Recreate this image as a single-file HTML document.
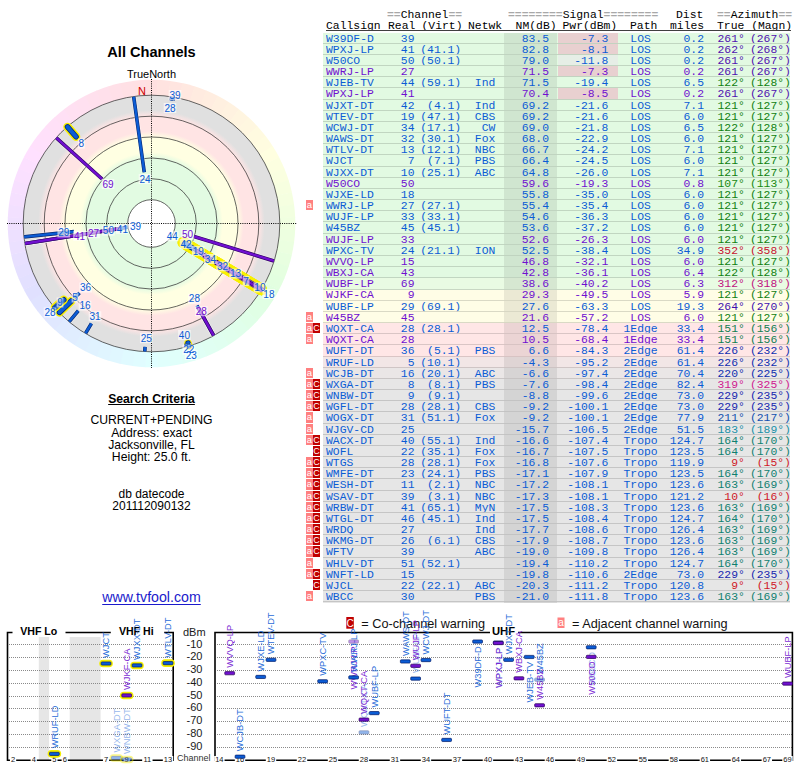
<!DOCTYPE html><html><head><meta charset="utf-8"><style>
html,body{margin:0;padding:0;}
body{width:800px;height:768px;position:relative;overflow:hidden;background:#fff;font-family:"Liberation Sans",sans-serif;}
.m{font-family:"Liberation Mono",monospace;font-size:11.38px;letter-spacing:0.002px;white-space:pre;position:absolute;line-height:11px;transform:scaleY(1.040);transform-origin:0 8.53px;}
.r{position:absolute;left:323px;width:467px;}
.ab{position:absolute;width:6.6px;height:10.2px;background:#ff8080;color:#fff;font-family:"Liberation Sans",sans-serif;font-size:9.5px;line-height:10px;text-align:center;}
.cb{position:absolute;width:7px;height:10.2px;background:#c00000;color:#fff;font-family:"Liberation Sans",sans-serif;font-size:9px;line-height:10.5px;text-align:center;}
.t{position:absolute;white-space:nowrap;}
</style></head><body>

<div class="m" style="left:387.00px;top:10.07px;color:#000;"><span style="color:#a8a8a8;font-weight:bold">==</span><span style="color:#000">Channel</span><span style="color:#a8a8a8;font-weight:bold">==</span></div>
<div class="m" style="left:508.00px;top:10.07px;color:#000;"><span style="color:#a8a8a8;font-weight:bold">========</span><span style="color:#000">Signal</span><span style="color:#a8a8a8;font-weight:bold">========</span></div>
<div class="m" style="left:676.00px;top:10.07px;color:#000;">Dist</div>
<div class="m" style="left:717.00px;top:10.07px;color:#000;"><span style="color:#a8a8a8;font-weight:bold">==</span><span style="color:#000">Azimuth</span><span style="color:#a8a8a8;font-weight:bold">==</span></div>
<div class="m" style="left:326.00px;top:21.27px;color:#000;">Callsign</div>
<div class="m" style="left:388.00px;top:21.27px;color:#000;">Real</div>
<div class="m" style="left:421.50px;top:21.27px;color:#000;">(Virt)</div>
<div class="m" style="left:468.00px;top:21.27px;color:#000;">Netwk</div>
<div class="m" style="left:515.60px;top:21.27px;color:#000;">NM(dB)</div>
<div class="m" style="left:562.50px;top:21.27px;color:#000;">Pwr(dBm)</div>
<div class="m" style="left:630.00px;top:21.27px;color:#000;">Path</div>
<div class="m" style="left:670.00px;top:21.27px;color:#000;">miles</div>
<div class="m" style="left:717.00px;top:21.27px;color:#000;">True (Magn)</div>
<div style="position:absolute;left:326px;top:30px;width:465px;height:1px;background:#404040"></div>
<div class="r" style="top:32.60px;height:11.57px;background:#e2fae2"></div>
<div style="position:absolute;left:504.2px;width:53.3px;top:32.60px;height:11.57px;background:#d0e6d0"></div>
<div style="position:absolute;left:557.5px;width:60.5px;top:32.60px;height:11.57px;background:#e8d0d0"></div>
<div class="m" style="left:326.00px;top:33.57px;color:#0b5cd5;">W39DF-D</div>
<div class="m" style="right:385.50px;top:33.57px;color:#0b5cd5;">39</div>
<div class="m" style="right:251.00px;top:33.57px;color:#0b5cd5;">83.5</div>
<div class="m" style="right:191.70px;top:33.57px;color:#0b5cd5;">-7.3</div>
<div class="m" style="left:590.6px;width:100px;text-align:center;top:33.57px;color:#0b5cd5">LOS</div>
<div class="m" style="right:96.00px;top:33.57px;color:#0b5cd5;">0.2</div>
<div class="m" style="right:55.20px;top:33.57px;color:#5010b0;">261°</div>
<div class="m" style="right:9.10px;top:33.57px;color:#5010b0;">(267°)</div>
<div class="r" style="top:43.77px;height:11.57px;background:#e2fae2"></div>
<div style="position:absolute;left:504.2px;width:53.3px;top:43.77px;height:11.57px;background:#d0e6d0"></div>
<div style="position:absolute;left:557.5px;width:60.5px;top:43.77px;height:11.57px;background:#e8d0d0"></div>
<div class="m" style="left:326.00px;top:44.74px;color:#0b5cd5;">WPXJ-LP</div>
<div class="m" style="right:385.50px;top:44.74px;color:#0b5cd5;">41</div>
<div class="m" style="right:338.80px;top:44.74px;color:#0b5cd5;">(41.1)</div>
<div class="m" style="right:251.00px;top:44.74px;color:#0b5cd5;">82.8</div>
<div class="m" style="right:191.70px;top:44.74px;color:#0b5cd5;">-8.1</div>
<div class="m" style="left:590.6px;width:100px;text-align:center;top:44.74px;color:#0b5cd5">LOS</div>
<div class="m" style="right:96.00px;top:44.74px;color:#0b5cd5;">0.2</div>
<div class="m" style="right:55.20px;top:44.74px;color:#5010b0;">262°</div>
<div class="m" style="right:9.10px;top:44.74px;color:#5010b0;">(268°)</div>
<div class="r" style="top:54.94px;height:11.57px;background:#e2fae2"></div>
<div style="position:absolute;left:504.2px;width:53.3px;top:54.94px;height:11.57px;background:#d0e6d0"></div>
<div style="position:absolute;left:557.5px;width:60.5px;top:54.94px;height:11.57px;background:#e6eee6"></div>
<div class="m" style="left:326.00px;top:55.91px;color:#0b5cd5;">W50CO</div>
<div class="m" style="right:385.50px;top:55.91px;color:#0b5cd5;">50</div>
<div class="m" style="right:338.80px;top:55.91px;color:#0b5cd5;">(50.1)</div>
<div class="m" style="right:251.00px;top:55.91px;color:#0b5cd5;">79.0</div>
<div class="m" style="right:191.70px;top:55.91px;color:#0b5cd5;">-11.8</div>
<div class="m" style="left:590.6px;width:100px;text-align:center;top:55.91px;color:#0b5cd5">LOS</div>
<div class="m" style="right:96.00px;top:55.91px;color:#0b5cd5;">0.2</div>
<div class="m" style="right:55.20px;top:55.91px;color:#5010b0;">261°</div>
<div class="m" style="right:9.10px;top:55.91px;color:#5010b0;">(267°)</div>
<div class="r" style="top:66.11px;height:11.57px;background:#e2fae2"></div>
<div style="position:absolute;left:504.2px;width:53.3px;top:66.11px;height:11.57px;background:#d0e6d0"></div>
<div style="position:absolute;left:557.5px;width:60.5px;top:66.11px;height:11.57px;background:#e8d0d0"></div>
<div class="m" style="left:326.00px;top:67.08px;color:#7010d0;">WWRJ-LP</div>
<div class="m" style="right:385.50px;top:67.08px;color:#7010d0;">27</div>
<div class="m" style="right:251.00px;top:67.08px;color:#7010d0;">71.5</div>
<div class="m" style="right:191.70px;top:67.08px;color:#7010d0;">-7.3</div>
<div class="m" style="left:590.6px;width:100px;text-align:center;top:67.08px;color:#7010d0">LOS</div>
<div class="m" style="right:96.00px;top:67.08px;color:#7010d0;">0.2</div>
<div class="m" style="right:55.20px;top:67.08px;color:#5010b0;">261°</div>
<div class="m" style="right:9.10px;top:67.08px;color:#5010b0;">(267°)</div>
<div class="r" style="top:77.28px;height:11.57px;background:#e2fae2"></div>
<div style="position:absolute;left:504.2px;width:53.3px;top:77.28px;height:11.57px;background:#d0e6d0"></div>
<div class="m" style="left:326.00px;top:78.25px;color:#0b5cd5;">WJEB-TV</div>
<div class="m" style="right:385.50px;top:78.25px;color:#0b5cd5;">44</div>
<div class="m" style="right:338.80px;top:78.25px;color:#0b5cd5;">(59.1)</div>
<div class="m" style="right:304.70px;top:78.25px;color:#0b5cd5;">Ind</div>
<div class="m" style="right:251.00px;top:78.25px;color:#0b5cd5;">71.5</div>
<div class="m" style="right:191.70px;top:78.25px;color:#0b5cd5;">-19.4</div>
<div class="m" style="left:590.6px;width:100px;text-align:center;top:78.25px;color:#0b5cd5">LOS</div>
<div class="m" style="right:96.00px;top:78.25px;color:#0b5cd5;">6.5</div>
<div class="m" style="right:55.20px;top:78.25px;color:#108010;">122°</div>
<div class="m" style="right:9.10px;top:78.25px;color:#108010;">(128°)</div>
<div class="r" style="top:88.45px;height:11.57px;background:#e2fae2"></div>
<div style="position:absolute;left:504.2px;width:53.3px;top:88.45px;height:11.57px;background:#d0e6d0"></div>
<div style="position:absolute;left:557.5px;width:60.5px;top:88.45px;height:11.57px;background:#e8d0d0"></div>
<div class="m" style="left:326.00px;top:89.42px;color:#7010d0;">WPXJ-LP</div>
<div class="m" style="right:385.50px;top:89.42px;color:#7010d0;">41</div>
<div class="m" style="right:251.00px;top:89.42px;color:#7010d0;">70.4</div>
<div class="m" style="right:191.70px;top:89.42px;color:#7010d0;">-8.5</div>
<div class="m" style="left:590.6px;width:100px;text-align:center;top:89.42px;color:#7010d0">LOS</div>
<div class="m" style="right:96.00px;top:89.42px;color:#7010d0;">0.2</div>
<div class="m" style="right:55.20px;top:89.42px;color:#5010b0;">261°</div>
<div class="m" style="right:9.10px;top:89.42px;color:#5010b0;">(267°)</div>
<div class="r" style="top:99.62px;height:11.57px;background:#e2fae2"></div>
<div style="position:absolute;left:504.2px;width:53.3px;top:99.62px;height:11.57px;background:#d0e6d0"></div>
<div class="m" style="left:326.00px;top:100.59px;color:#0b5cd5;">WJXT-DT</div>
<div class="m" style="right:385.50px;top:100.59px;color:#0b5cd5;">42</div>
<div class="m" style="right:338.80px;top:100.59px;color:#0b5cd5;">(4.1)</div>
<div class="m" style="right:304.70px;top:100.59px;color:#0b5cd5;">Ind</div>
<div class="m" style="right:251.00px;top:100.59px;color:#0b5cd5;">69.2</div>
<div class="m" style="right:191.70px;top:100.59px;color:#0b5cd5;">-21.6</div>
<div class="m" style="left:590.6px;width:100px;text-align:center;top:100.59px;color:#0b5cd5">LOS</div>
<div class="m" style="right:96.00px;top:100.59px;color:#0b5cd5;">7.1</div>
<div class="m" style="right:55.20px;top:100.59px;color:#108010;">121°</div>
<div class="m" style="right:9.10px;top:100.59px;color:#108010;">(127°)</div>
<div class="r" style="top:110.79px;height:11.57px;background:#e2fae2"></div>
<div style="position:absolute;left:504.2px;width:53.3px;top:110.79px;height:11.57px;background:#d0e6d0"></div>
<div class="m" style="left:326.00px;top:111.76px;color:#0b5cd5;">WTEV-DT</div>
<div class="m" style="right:385.50px;top:111.76px;color:#0b5cd5;">19</div>
<div class="m" style="right:338.80px;top:111.76px;color:#0b5cd5;">(47.1)</div>
<div class="m" style="right:304.70px;top:111.76px;color:#0b5cd5;">CBS</div>
<div class="m" style="right:251.00px;top:111.76px;color:#0b5cd5;">69.2</div>
<div class="m" style="right:191.70px;top:111.76px;color:#0b5cd5;">-21.6</div>
<div class="m" style="left:590.6px;width:100px;text-align:center;top:111.76px;color:#0b5cd5">LOS</div>
<div class="m" style="right:96.00px;top:111.76px;color:#0b5cd5;">6.0</div>
<div class="m" style="right:55.20px;top:111.76px;color:#108010;">121°</div>
<div class="m" style="right:9.10px;top:111.76px;color:#108010;">(127°)</div>
<div class="r" style="top:121.96px;height:11.57px;background:#e2fae2"></div>
<div style="position:absolute;left:504.2px;width:53.3px;top:121.96px;height:11.57px;background:#d0e6d0"></div>
<div class="m" style="left:326.00px;top:122.93px;color:#0b5cd5;">WCWJ-DT</div>
<div class="m" style="right:385.50px;top:122.93px;color:#0b5cd5;">34</div>
<div class="m" style="right:338.80px;top:122.93px;color:#0b5cd5;">(17.1)</div>
<div class="m" style="right:304.70px;top:122.93px;color:#0b5cd5;">CW</div>
<div class="m" style="right:251.00px;top:122.93px;color:#0b5cd5;">69.0</div>
<div class="m" style="right:191.70px;top:122.93px;color:#0b5cd5;">-21.8</div>
<div class="m" style="left:590.6px;width:100px;text-align:center;top:122.93px;color:#0b5cd5">LOS</div>
<div class="m" style="right:96.00px;top:122.93px;color:#0b5cd5;">6.5</div>
<div class="m" style="right:55.20px;top:122.93px;color:#108010;">122°</div>
<div class="m" style="right:9.10px;top:122.93px;color:#108010;">(128°)</div>
<div class="r" style="top:133.13px;height:11.57px;background:#e2fae2"></div>
<div style="position:absolute;left:504.2px;width:53.3px;top:133.13px;height:11.57px;background:#d0e6d0"></div>
<div class="m" style="left:326.00px;top:134.10px;color:#0b5cd5;">WAWS-DT</div>
<div class="m" style="right:385.50px;top:134.10px;color:#0b5cd5;">32</div>
<div class="m" style="right:338.80px;top:134.10px;color:#0b5cd5;">(30.1)</div>
<div class="m" style="right:304.70px;top:134.10px;color:#0b5cd5;">Fox</div>
<div class="m" style="right:251.00px;top:134.10px;color:#0b5cd5;">68.0</div>
<div class="m" style="right:191.70px;top:134.10px;color:#0b5cd5;">-22.9</div>
<div class="m" style="left:590.6px;width:100px;text-align:center;top:134.10px;color:#0b5cd5">LOS</div>
<div class="m" style="right:96.00px;top:134.10px;color:#0b5cd5;">6.0</div>
<div class="m" style="right:55.20px;top:134.10px;color:#108010;">121°</div>
<div class="m" style="right:9.10px;top:134.10px;color:#108010;">(127°)</div>
<div class="r" style="top:144.30px;height:11.57px;background:#e2fae2"></div>
<div style="position:absolute;left:504.2px;width:53.3px;top:144.30px;height:11.57px;background:#d0e6d0"></div>
<div class="m" style="left:326.00px;top:145.27px;color:#0b5cd5;">WTLV-DT</div>
<div class="m" style="right:385.50px;top:145.27px;color:#0b5cd5;">13</div>
<div class="m" style="right:338.80px;top:145.27px;color:#0b5cd5;">(12.1)</div>
<div class="m" style="right:304.70px;top:145.27px;color:#0b5cd5;">NBC</div>
<div class="m" style="right:251.00px;top:145.27px;color:#0b5cd5;">66.7</div>
<div class="m" style="right:191.70px;top:145.27px;color:#0b5cd5;">-24.2</div>
<div class="m" style="left:590.6px;width:100px;text-align:center;top:145.27px;color:#0b5cd5">LOS</div>
<div class="m" style="right:96.00px;top:145.27px;color:#0b5cd5;">7.1</div>
<div class="m" style="right:55.20px;top:145.27px;color:#108010;">121°</div>
<div class="m" style="right:9.10px;top:145.27px;color:#108010;">(127°)</div>
<div class="r" style="top:155.47px;height:11.57px;background:#e2fae2"></div>
<div style="position:absolute;left:504.2px;width:53.3px;top:155.47px;height:11.57px;background:#d0e6d0"></div>
<div class="m" style="left:326.00px;top:156.44px;color:#0b5cd5;">WJCT</div>
<div class="m" style="right:385.50px;top:156.44px;color:#0b5cd5;">7</div>
<div class="m" style="right:338.80px;top:156.44px;color:#0b5cd5;">(7.1)</div>
<div class="m" style="right:304.70px;top:156.44px;color:#0b5cd5;">PBS</div>
<div class="m" style="right:251.00px;top:156.44px;color:#0b5cd5;">66.4</div>
<div class="m" style="right:191.70px;top:156.44px;color:#0b5cd5;">-24.5</div>
<div class="m" style="left:590.6px;width:100px;text-align:center;top:156.44px;color:#0b5cd5">LOS</div>
<div class="m" style="right:96.00px;top:156.44px;color:#0b5cd5;">6.0</div>
<div class="m" style="right:55.20px;top:156.44px;color:#108010;">121°</div>
<div class="m" style="right:9.10px;top:156.44px;color:#108010;">(127°)</div>
<div class="r" style="top:166.64px;height:11.57px;background:#e2fae2"></div>
<div style="position:absolute;left:504.2px;width:53.3px;top:166.64px;height:11.57px;background:#d0e6d0"></div>
<div class="m" style="left:326.00px;top:167.61px;color:#0b5cd5;">WJXX-DT</div>
<div class="m" style="right:385.50px;top:167.61px;color:#0b5cd5;">10</div>
<div class="m" style="right:338.80px;top:167.61px;color:#0b5cd5;">(25.1)</div>
<div class="m" style="right:304.70px;top:167.61px;color:#0b5cd5;">ABC</div>
<div class="m" style="right:251.00px;top:167.61px;color:#0b5cd5;">64.8</div>
<div class="m" style="right:191.70px;top:167.61px;color:#0b5cd5;">-26.0</div>
<div class="m" style="left:590.6px;width:100px;text-align:center;top:167.61px;color:#0b5cd5">LOS</div>
<div class="m" style="right:96.00px;top:167.61px;color:#0b5cd5;">7.1</div>
<div class="m" style="right:55.20px;top:167.61px;color:#108010;">121°</div>
<div class="m" style="right:9.10px;top:167.61px;color:#108010;">(127°)</div>
<div class="r" style="top:177.81px;height:11.57px;background:#e2fae2"></div>
<div style="position:absolute;left:504.2px;width:53.3px;top:177.81px;height:11.57px;background:#d0e6d0"></div>
<div class="m" style="left:326.00px;top:178.78px;color:#7010d0;">W50CO</div>
<div class="m" style="right:385.50px;top:178.78px;color:#7010d0;">50</div>
<div class="m" style="right:251.00px;top:178.78px;color:#7010d0;">59.6</div>
<div class="m" style="right:191.70px;top:178.78px;color:#7010d0;">-19.3</div>
<div class="m" style="left:590.6px;width:100px;text-align:center;top:178.78px;color:#7010d0">LOS</div>
<div class="m" style="right:96.00px;top:178.78px;color:#7010d0;">0.8</div>
<div class="m" style="right:55.20px;top:178.78px;color:#188810;">107°</div>
<div class="m" style="right:9.10px;top:178.78px;color:#188810;">(113°)</div>
<div class="r" style="top:188.98px;height:11.57px;background:#e2fae2"></div>
<div style="position:absolute;left:504.2px;width:53.3px;top:188.98px;height:11.57px;background:#d0e6d0"></div>
<div class="m" style="left:326.00px;top:189.95px;color:#0b5cd5;">WJXE-LD</div>
<div class="m" style="right:385.50px;top:189.95px;color:#0b5cd5;">18</div>
<div class="m" style="right:251.00px;top:189.95px;color:#0b5cd5;">55.8</div>
<div class="m" style="right:191.70px;top:189.95px;color:#0b5cd5;">-35.0</div>
<div class="m" style="left:590.6px;width:100px;text-align:center;top:189.95px;color:#0b5cd5">LOS</div>
<div class="m" style="right:96.00px;top:189.95px;color:#0b5cd5;">6.0</div>
<div class="m" style="right:55.20px;top:189.95px;color:#108010;">121°</div>
<div class="m" style="right:9.10px;top:189.95px;color:#108010;">(127°)</div>
<div class="r" style="top:200.15px;height:11.57px;background:#e2fae2"></div>
<div style="position:absolute;left:504.2px;width:53.3px;top:200.15px;height:11.57px;background:#d0e6d0"></div>
<div class="m" style="left:326.00px;top:201.12px;color:#0b5cd5;">WWRJ-LP</div>
<div class="m" style="right:385.50px;top:201.12px;color:#0b5cd5;">27</div>
<div class="m" style="right:338.80px;top:201.12px;color:#0b5cd5;">(27.1)</div>
<div class="m" style="right:251.00px;top:201.12px;color:#0b5cd5;">55.4</div>
<div class="m" style="right:191.70px;top:201.12px;color:#0b5cd5;">-35.4</div>
<div class="m" style="left:590.6px;width:100px;text-align:center;top:201.12px;color:#0b5cd5">LOS</div>
<div class="m" style="right:96.00px;top:201.12px;color:#0b5cd5;">6.0</div>
<div class="m" style="right:55.20px;top:201.12px;color:#108010;">121°</div>
<div class="m" style="right:9.10px;top:201.12px;color:#108010;">(127°)</div>
<div class="ab" style="left:306.2px;top:200.15px">a</div>
<div class="r" style="top:211.32px;height:11.57px;background:#e2fae2"></div>
<div style="position:absolute;left:504.2px;width:53.3px;top:211.32px;height:11.57px;background:#d0e6d0"></div>
<div class="m" style="left:326.00px;top:212.29px;color:#0b5cd5;">WUJF-LP</div>
<div class="m" style="right:385.50px;top:212.29px;color:#0b5cd5;">33</div>
<div class="m" style="right:338.80px;top:212.29px;color:#0b5cd5;">(33.1)</div>
<div class="m" style="right:251.00px;top:212.29px;color:#0b5cd5;">54.6</div>
<div class="m" style="right:191.70px;top:212.29px;color:#0b5cd5;">-36.3</div>
<div class="m" style="left:590.6px;width:100px;text-align:center;top:212.29px;color:#0b5cd5">LOS</div>
<div class="m" style="right:96.00px;top:212.29px;color:#0b5cd5;">6.0</div>
<div class="m" style="right:55.20px;top:212.29px;color:#108010;">121°</div>
<div class="m" style="right:9.10px;top:212.29px;color:#108010;">(127°)</div>
<div class="r" style="top:222.49px;height:11.57px;background:#e2fae2"></div>
<div style="position:absolute;left:504.2px;width:53.3px;top:222.49px;height:11.57px;background:#d0e6d0"></div>
<div class="m" style="left:326.00px;top:223.46px;color:#0b5cd5;">W45BZ</div>
<div class="m" style="right:385.50px;top:223.46px;color:#0b5cd5;">45</div>
<div class="m" style="right:338.80px;top:223.46px;color:#0b5cd5;">(45.1)</div>
<div class="m" style="right:251.00px;top:223.46px;color:#0b5cd5;">53.6</div>
<div class="m" style="right:191.70px;top:223.46px;color:#0b5cd5;">-37.2</div>
<div class="m" style="left:590.6px;width:100px;text-align:center;top:223.46px;color:#0b5cd5">LOS</div>
<div class="m" style="right:96.00px;top:223.46px;color:#0b5cd5;">6.0</div>
<div class="m" style="right:55.20px;top:223.46px;color:#108010;">121°</div>
<div class="m" style="right:9.10px;top:223.46px;color:#108010;">(127°)</div>
<div class="r" style="top:233.66px;height:11.57px;background:#e2fae2"></div>
<div style="position:absolute;left:504.2px;width:53.3px;top:233.66px;height:11.57px;background:#d0e6d0"></div>
<div class="m" style="left:326.00px;top:234.63px;color:#7010d0;">WUJF-LP</div>
<div class="m" style="right:385.50px;top:234.63px;color:#7010d0;">33</div>
<div class="m" style="right:251.00px;top:234.63px;color:#7010d0;">52.6</div>
<div class="m" style="right:191.70px;top:234.63px;color:#7010d0;">-26.3</div>
<div class="m" style="left:590.6px;width:100px;text-align:center;top:234.63px;color:#7010d0">LOS</div>
<div class="m" style="right:96.00px;top:234.63px;color:#7010d0;">6.0</div>
<div class="m" style="right:55.20px;top:234.63px;color:#108010;">121°</div>
<div class="m" style="right:9.10px;top:234.63px;color:#108010;">(127°)</div>
<div class="r" style="top:244.83px;height:11.57px;background:#e2fae2"></div>
<div style="position:absolute;left:504.2px;width:53.3px;top:244.83px;height:11.57px;background:#d0e6d0"></div>
<div class="m" style="left:326.00px;top:245.80px;color:#0b5cd5;">WPXC-TV</div>
<div class="m" style="right:385.50px;top:245.80px;color:#0b5cd5;">24</div>
<div class="m" style="right:338.80px;top:245.80px;color:#0b5cd5;">(21.1)</div>
<div class="m" style="right:304.70px;top:245.80px;color:#0b5cd5;">ION</div>
<div class="m" style="right:251.00px;top:245.80px;color:#0b5cd5;">52.5</div>
<div class="m" style="right:191.70px;top:245.80px;color:#0b5cd5;">-38.4</div>
<div class="m" style="left:590.6px;width:100px;text-align:center;top:245.80px;color:#0b5cd5">LOS</div>
<div class="m" style="right:96.00px;top:245.80px;color:#0b5cd5;">34.9</div>
<div class="m" style="right:55.20px;top:245.80px;color:#c81030;">352°</div>
<div class="m" style="right:9.10px;top:245.80px;color:#c81030;">(358°)</div>
<div class="r" style="top:256.00px;height:11.57px;background:#e2fae2"></div>
<div style="position:absolute;left:504.2px;width:53.3px;top:256.00px;height:11.57px;background:#d0e6d0"></div>
<div class="m" style="left:326.00px;top:256.97px;color:#7010d0;">WVVQ-LP</div>
<div class="m" style="right:385.50px;top:256.97px;color:#7010d0;">15</div>
<div class="m" style="right:251.00px;top:256.97px;color:#7010d0;">46.8</div>
<div class="m" style="right:191.70px;top:256.97px;color:#7010d0;">-32.1</div>
<div class="m" style="left:590.6px;width:100px;text-align:center;top:256.97px;color:#7010d0">LOS</div>
<div class="m" style="right:96.00px;top:256.97px;color:#7010d0;">6.0</div>
<div class="m" style="right:55.20px;top:256.97px;color:#108010;">121°</div>
<div class="m" style="right:9.10px;top:256.97px;color:#108010;">(127°)</div>
<div class="r" style="top:267.17px;height:11.57px;background:#e2fae2"></div>
<div style="position:absolute;left:504.2px;width:53.3px;top:267.17px;height:11.57px;background:#d0e6d0"></div>
<div class="m" style="left:326.00px;top:268.14px;color:#7010d0;">WBXJ-CA</div>
<div class="m" style="right:385.50px;top:268.14px;color:#7010d0;">43</div>
<div class="m" style="right:251.00px;top:268.14px;color:#7010d0;">42.8</div>
<div class="m" style="right:191.70px;top:268.14px;color:#7010d0;">-36.1</div>
<div class="m" style="left:590.6px;width:100px;text-align:center;top:268.14px;color:#7010d0">LOS</div>
<div class="m" style="right:96.00px;top:268.14px;color:#7010d0;">6.4</div>
<div class="m" style="right:55.20px;top:268.14px;color:#108010;">122°</div>
<div class="m" style="right:9.10px;top:268.14px;color:#108010;">(128°)</div>
<div class="r" style="top:278.34px;height:11.57px;background:#e9fbe3"></div>
<div style="position:absolute;left:504.2px;width:53.3px;top:278.34px;height:11.57px;background:#d6e7d1"></div>
<div class="m" style="left:326.00px;top:279.31px;color:#7010d0;">WUBF-LP</div>
<div class="m" style="right:385.50px;top:279.31px;color:#7010d0;">69</div>
<div class="m" style="right:251.00px;top:279.31px;color:#7010d0;">38.6</div>
<div class="m" style="right:191.70px;top:279.31px;color:#7010d0;">-40.2</div>
<div class="m" style="left:590.6px;width:100px;text-align:center;top:279.31px;color:#7010d0">LOS</div>
<div class="m" style="right:96.00px;top:279.31px;color:#7010d0;">6.3</div>
<div class="m" style="right:55.20px;top:279.31px;color:#c01080;">312°</div>
<div class="m" style="right:9.10px;top:279.31px;color:#c01080;">(318°)</div>
<div class="r" style="top:289.51px;height:11.57px;background:#fffde6"></div>
<div style="position:absolute;left:504.2px;width:53.3px;top:289.51px;height:11.57px;background:#ebe9d4"></div>
<div class="m" style="left:326.00px;top:290.48px;color:#7010d0;">WJKF-CA</div>
<div class="m" style="right:385.50px;top:290.48px;color:#7010d0;">9</div>
<div class="m" style="right:251.00px;top:290.48px;color:#7010d0;">29.3</div>
<div class="m" style="right:191.70px;top:290.48px;color:#7010d0;">-49.5</div>
<div class="m" style="left:590.6px;width:100px;text-align:center;top:290.48px;color:#7010d0">LOS</div>
<div class="m" style="right:96.00px;top:290.48px;color:#7010d0;">5.9</div>
<div class="m" style="right:55.20px;top:290.48px;color:#108010;">121°</div>
<div class="m" style="right:9.10px;top:290.48px;color:#108010;">(127°)</div>
<div class="r" style="top:300.68px;height:11.57px;background:#fffde6"></div>
<div style="position:absolute;left:504.2px;width:53.3px;top:300.68px;height:11.57px;background:#ebe9d4"></div>
<div class="m" style="left:326.00px;top:301.65px;color:#0b5cd5;">WUBF-LP</div>
<div class="m" style="right:385.50px;top:301.65px;color:#0b5cd5;">29</div>
<div class="m" style="right:338.80px;top:301.65px;color:#0b5cd5;">(69.1)</div>
<div class="m" style="right:251.00px;top:301.65px;color:#0b5cd5;">27.6</div>
<div class="m" style="right:191.70px;top:301.65px;color:#0b5cd5;">-63.3</div>
<div class="m" style="left:590.6px;width:100px;text-align:center;top:301.65px;color:#0b5cd5">LOS</div>
<div class="m" style="right:96.00px;top:301.65px;color:#0b5cd5;">19.3</div>
<div class="m" style="right:55.20px;top:301.65px;color:#4010b0;">264°</div>
<div class="m" style="right:9.10px;top:301.65px;color:#4010b0;">(270°)</div>
<div class="r" style="top:311.85px;height:11.57px;background:#fffde6"></div>
<div style="position:absolute;left:504.2px;width:53.3px;top:311.85px;height:11.57px;background:#ebe9d4"></div>
<div class="m" style="left:326.00px;top:312.82px;color:#7010d0;">W45BZ</div>
<div class="m" style="right:385.50px;top:312.82px;color:#7010d0;">45</div>
<div class="m" style="right:251.00px;top:312.82px;color:#7010d0;">21.6</div>
<div class="m" style="right:191.70px;top:312.82px;color:#7010d0;">-57.2</div>
<div class="m" style="left:590.6px;width:100px;text-align:center;top:312.82px;color:#7010d0">LOS</div>
<div class="m" style="right:96.00px;top:312.82px;color:#7010d0;">6.0</div>
<div class="m" style="right:55.20px;top:312.82px;color:#108010;">121°</div>
<div class="m" style="right:9.10px;top:312.82px;color:#108010;">(127°)</div>
<div class="ab" style="left:306.2px;top:311.85px">a</div>
<div class="r" style="top:323.02px;height:11.57px;background:#ffe6e6"></div>
<div style="position:absolute;left:504.2px;width:53.3px;top:323.02px;height:11.57px;background:#ebd4d4"></div>
<div class="m" style="left:326.00px;top:323.99px;color:#0b5cd5;">WQXT-CA</div>
<div class="m" style="right:385.50px;top:323.99px;color:#0b5cd5;">28</div>
<div class="m" style="right:338.80px;top:323.99px;color:#0b5cd5;">(28.1)</div>
<div class="m" style="right:251.00px;top:323.99px;color:#0b5cd5;">12.5</div>
<div class="m" style="right:191.70px;top:323.99px;color:#0b5cd5;">-78.4</div>
<div class="m" style="left:590.6px;width:100px;text-align:center;top:323.99px;color:#0b5cd5">1Edge</div>
<div class="m" style="right:96.00px;top:323.99px;color:#0b5cd5;">33.4</div>
<div class="m" style="right:55.20px;top:323.99px;color:#108050;">151°</div>
<div class="m" style="right:9.10px;top:323.99px;color:#108050;">(156°)</div>
<div class="ab" style="left:306.2px;top:323.02px">a</div>
<div class="cb" style="left:312.9px;top:323.02px">C</div>
<div class="r" style="top:334.19px;height:11.57px;background:#ffe6e6"></div>
<div style="position:absolute;left:504.2px;width:53.3px;top:334.19px;height:11.57px;background:#ebd4d4"></div>
<div class="m" style="left:326.00px;top:335.16px;color:#7010d0;">WQXT-CA</div>
<div class="m" style="right:385.50px;top:335.16px;color:#7010d0;">28</div>
<div class="m" style="right:251.00px;top:335.16px;color:#7010d0;">10.5</div>
<div class="m" style="right:191.70px;top:335.16px;color:#7010d0;">-68.4</div>
<div class="m" style="left:590.6px;width:100px;text-align:center;top:335.16px;color:#7010d0">1Edge</div>
<div class="m" style="right:96.00px;top:335.16px;color:#7010d0;">33.4</div>
<div class="m" style="right:55.20px;top:335.16px;color:#108050;">151°</div>
<div class="m" style="right:9.10px;top:335.16px;color:#108050;">(156°)</div>
<div class="ab" style="left:306.2px;top:334.19px">a</div>
<div class="r" style="top:345.36px;height:11.57px;background:#ffe6e6"></div>
<div style="position:absolute;left:504.2px;width:53.3px;top:345.36px;height:11.57px;background:#ebd4d4"></div>
<div class="m" style="left:326.00px;top:346.33px;color:#0b5cd5;">WUFT-DT</div>
<div class="m" style="right:385.50px;top:346.33px;color:#0b5cd5;">36</div>
<div class="m" style="right:338.80px;top:346.33px;color:#0b5cd5;">(5.1)</div>
<div class="m" style="right:304.70px;top:346.33px;color:#0b5cd5;">PBS</div>
<div class="m" style="right:251.00px;top:346.33px;color:#0b5cd5;">6.6</div>
<div class="m" style="right:191.70px;top:346.33px;color:#0b5cd5;">-84.3</div>
<div class="m" style="left:590.6px;width:100px;text-align:center;top:346.33px;color:#0b5cd5">2Edge</div>
<div class="m" style="right:96.00px;top:346.33px;color:#0b5cd5;">61.4</div>
<div class="m" style="right:55.20px;top:346.33px;color:#1030b0;">226°</div>
<div class="m" style="right:9.10px;top:346.33px;color:#1030b0;">(232°)</div>
<div class="r" style="top:356.53px;height:11.57px;background:#f2e6e6"></div>
<div style="position:absolute;left:504.2px;width:53.3px;top:356.53px;height:11.57px;background:#dfd4d4"></div>
<div class="m" style="left:326.00px;top:357.50px;color:#0b5cd5;">WRUF-LD</div>
<div class="m" style="right:385.50px;top:357.50px;color:#0b5cd5;">5</div>
<div class="m" style="right:338.80px;top:357.50px;color:#0b5cd5;">(10.1)</div>
<div class="m" style="right:251.00px;top:357.50px;color:#0b5cd5;">-4.3</div>
<div class="m" style="right:191.70px;top:357.50px;color:#0b5cd5;">-95.2</div>
<div class="m" style="left:590.6px;width:100px;text-align:center;top:357.50px;color:#0b5cd5">2Edge</div>
<div class="m" style="right:96.00px;top:357.50px;color:#0b5cd5;">61.4</div>
<div class="m" style="right:55.20px;top:357.50px;color:#1030b0;">226°</div>
<div class="m" style="right:9.10px;top:357.50px;color:#1030b0;">(232°)</div>
<div class="r" style="top:367.70px;height:11.57px;background:#eae6e6"></div>
<div style="position:absolute;left:504.2px;width:53.3px;top:367.70px;height:11.57px;background:#d7d4d4"></div>
<div class="m" style="left:326.00px;top:368.67px;color:#0b5cd5;">WCJB-DT</div>
<div class="m" style="right:385.50px;top:368.67px;color:#0b5cd5;">16</div>
<div class="m" style="right:338.80px;top:368.67px;color:#0b5cd5;">(20.1)</div>
<div class="m" style="right:304.70px;top:368.67px;color:#0b5cd5;">ABC</div>
<div class="m" style="right:251.00px;top:368.67px;color:#0b5cd5;">-6.6</div>
<div class="m" style="right:191.70px;top:368.67px;color:#0b5cd5;">-97.4</div>
<div class="m" style="left:590.6px;width:100px;text-align:center;top:368.67px;color:#0b5cd5">2Edge</div>
<div class="m" style="right:96.00px;top:368.67px;color:#0b5cd5;">70.4</div>
<div class="m" style="right:55.20px;top:368.67px;color:#1030b0;">220°</div>
<div class="m" style="right:9.10px;top:368.67px;color:#1030b0;">(225°)</div>
<div class="ab" style="left:306.2px;top:367.70px">a</div>
<div class="r" style="top:378.87px;height:11.57px;background:#e7e6e6"></div>
<div style="position:absolute;left:504.2px;width:53.3px;top:378.87px;height:11.57px;background:#d5d4d4"></div>
<div class="m" style="left:326.00px;top:379.84px;color:#0b5cd5;">WXGA-DT</div>
<div class="m" style="right:385.50px;top:379.84px;color:#0b5cd5;">8</div>
<div class="m" style="right:338.80px;top:379.84px;color:#0b5cd5;">(8.1)</div>
<div class="m" style="right:304.70px;top:379.84px;color:#0b5cd5;">PBS</div>
<div class="m" style="right:251.00px;top:379.84px;color:#0b5cd5;">-7.6</div>
<div class="m" style="right:191.70px;top:379.84px;color:#0b5cd5;">-98.4</div>
<div class="m" style="left:590.6px;width:100px;text-align:center;top:379.84px;color:#0b5cd5">2Edge</div>
<div class="m" style="right:96.00px;top:379.84px;color:#0b5cd5;">82.4</div>
<div class="m" style="right:55.20px;top:379.84px;color:#d01890;">319°</div>
<div class="m" style="right:9.10px;top:379.84px;color:#d01890;">(325°)</div>
<div class="ab" style="left:306.2px;top:378.87px">a</div>
<div class="cb" style="left:312.9px;top:378.87px">C</div>
<div class="r" style="top:390.04px;height:11.57px;background:#e6e6e6"></div>
<div style="position:absolute;left:504.2px;width:53.3px;top:390.04px;height:11.57px;background:#d4d4d4"></div>
<div class="m" style="left:326.00px;top:391.01px;color:#0b5cd5;">WNBW-DT</div>
<div class="m" style="right:385.50px;top:391.01px;color:#0b5cd5;">9</div>
<div class="m" style="right:338.80px;top:391.01px;color:#0b5cd5;">(9.1)</div>
<div class="m" style="right:251.00px;top:391.01px;color:#0b5cd5;">-8.8</div>
<div class="m" style="right:191.70px;top:391.01px;color:#0b5cd5;">-99.6</div>
<div class="m" style="left:590.6px;width:100px;text-align:center;top:391.01px;color:#0b5cd5">2Edge</div>
<div class="m" style="right:96.00px;top:391.01px;color:#0b5cd5;">73.0</div>
<div class="m" style="right:55.20px;top:391.01px;color:#1828b0;">229°</div>
<div class="m" style="right:9.10px;top:391.01px;color:#1828b0;">(235°)</div>
<div class="ab" style="left:306.2px;top:390.04px">a</div>
<div class="cb" style="left:312.9px;top:390.04px">C</div>
<div class="r" style="top:401.21px;height:11.57px;background:#e6e6e6"></div>
<div style="position:absolute;left:504.2px;width:53.3px;top:401.21px;height:11.57px;background:#d4d4d4"></div>
<div class="m" style="left:326.00px;top:402.18px;color:#0b5cd5;">WGFL-DT</div>
<div class="m" style="right:385.50px;top:402.18px;color:#0b5cd5;">28</div>
<div class="m" style="right:338.80px;top:402.18px;color:#0b5cd5;">(28.1)</div>
<div class="m" style="right:304.70px;top:402.18px;color:#0b5cd5;">CBS</div>
<div class="m" style="right:251.00px;top:402.18px;color:#0b5cd5;">-9.2</div>
<div class="m" style="right:191.70px;top:402.18px;color:#0b5cd5;">-100.1</div>
<div class="m" style="left:590.6px;width:100px;text-align:center;top:402.18px;color:#0b5cd5">2Edge</div>
<div class="m" style="right:96.00px;top:402.18px;color:#0b5cd5;">73.0</div>
<div class="m" style="right:55.20px;top:402.18px;color:#1828b0;">229°</div>
<div class="m" style="right:9.10px;top:402.18px;color:#1828b0;">(235°)</div>
<div class="ab" style="left:306.2px;top:401.21px">a</div>
<div class="cb" style="left:312.9px;top:401.21px">C</div>
<div class="r" style="top:412.38px;height:11.57px;background:#e6e6e6"></div>
<div style="position:absolute;left:504.2px;width:53.3px;top:412.38px;height:11.57px;background:#d4d4d4"></div>
<div class="m" style="left:326.00px;top:413.35px;color:#0b5cd5;">WOGX-DT</div>
<div class="m" style="right:385.50px;top:413.35px;color:#0b5cd5;">31</div>
<div class="m" style="right:338.80px;top:413.35px;color:#0b5cd5;">(51.1)</div>
<div class="m" style="right:304.70px;top:413.35px;color:#0b5cd5;">Fox</div>
<div class="m" style="right:251.00px;top:413.35px;color:#0b5cd5;">-9.2</div>
<div class="m" style="right:191.70px;top:413.35px;color:#0b5cd5;">-100.1</div>
<div class="m" style="left:590.6px;width:100px;text-align:center;top:413.35px;color:#0b5cd5">2Edge</div>
<div class="m" style="right:96.00px;top:413.35px;color:#0b5cd5;">77.9</div>
<div class="m" style="right:55.20px;top:413.35px;color:#1050b0;">211°</div>
<div class="m" style="right:9.10px;top:413.35px;color:#1050b0;">(217°)</div>
<div class="ab" style="left:306.2px;top:412.38px">a</div>
<div class="r" style="top:423.55px;height:11.57px;background:#e6e6e6"></div>
<div style="position:absolute;left:504.2px;width:53.3px;top:423.55px;height:11.57px;background:#d4d4d4"></div>
<div class="m" style="left:326.00px;top:424.52px;color:#0b5cd5;">WJGV-CD</div>
<div class="m" style="right:385.50px;top:424.52px;color:#0b5cd5;">25</div>
<div class="m" style="right:251.00px;top:424.52px;color:#0b5cd5;">-15.7</div>
<div class="m" style="right:191.70px;top:424.52px;color:#0b5cd5;">-106.5</div>
<div class="m" style="left:590.6px;width:100px;text-align:center;top:424.52px;color:#0b5cd5">2Edge</div>
<div class="m" style="right:96.00px;top:424.52px;color:#0b5cd5;">51.5</div>
<div class="m" style="right:55.20px;top:424.52px;color:#1890a8;">183°</div>
<div class="m" style="right:9.10px;top:424.52px;color:#1890a8;">(189°)</div>
<div class="ab" style="left:306.2px;top:423.55px">a</div>
<div class="r" style="top:434.72px;height:11.57px;background:#e6e6e6"></div>
<div style="position:absolute;left:504.2px;width:53.3px;top:434.72px;height:11.57px;background:#d4d4d4"></div>
<div class="m" style="left:326.00px;top:435.69px;color:#0b5cd5;">WACX-DT</div>
<div class="m" style="right:385.50px;top:435.69px;color:#0b5cd5;">40</div>
<div class="m" style="right:338.80px;top:435.69px;color:#0b5cd5;">(55.1)</div>
<div class="m" style="right:304.70px;top:435.69px;color:#0b5cd5;">Ind</div>
<div class="m" style="right:251.00px;top:435.69px;color:#0b5cd5;">-16.6</div>
<div class="m" style="right:191.70px;top:435.69px;color:#0b5cd5;">-107.4</div>
<div class="m" style="left:590.6px;width:100px;text-align:center;top:435.69px;color:#0b5cd5">Tropo</div>
<div class="m" style="right:96.00px;top:435.69px;color:#0b5cd5;">124.7</div>
<div class="m" style="right:55.20px;top:435.69px;color:#108070;">164°</div>
<div class="m" style="right:9.10px;top:435.69px;color:#108070;">(170°)</div>
<div class="ab" style="left:306.2px;top:434.72px">a</div>
<div class="cb" style="left:312.9px;top:434.72px">C</div>
<div class="r" style="top:445.89px;height:11.57px;background:#e6e6e6"></div>
<div style="position:absolute;left:504.2px;width:53.3px;top:445.89px;height:11.57px;background:#d4d4d4"></div>
<div class="m" style="left:326.00px;top:446.86px;color:#0b5cd5;">WOFL</div>
<div class="m" style="right:385.50px;top:446.86px;color:#0b5cd5;">22</div>
<div class="m" style="right:338.80px;top:446.86px;color:#0b5cd5;">(35.1)</div>
<div class="m" style="right:304.70px;top:446.86px;color:#0b5cd5;">Fox</div>
<div class="m" style="right:251.00px;top:446.86px;color:#0b5cd5;">-16.7</div>
<div class="m" style="right:191.70px;top:446.86px;color:#0b5cd5;">-107.5</div>
<div class="m" style="left:590.6px;width:100px;text-align:center;top:446.86px;color:#0b5cd5">Tropo</div>
<div class="m" style="right:96.00px;top:446.86px;color:#0b5cd5;">123.5</div>
<div class="m" style="right:55.20px;top:446.86px;color:#108070;">164°</div>
<div class="m" style="right:9.10px;top:446.86px;color:#108070;">(170°)</div>
<div class="cb" style="left:312.9px;top:445.89px">C</div>
<div class="r" style="top:457.06px;height:11.57px;background:#e6e6e6"></div>
<div style="position:absolute;left:504.2px;width:53.3px;top:457.06px;height:11.57px;background:#d4d4d4"></div>
<div class="m" style="left:326.00px;top:458.03px;color:#0b5cd5;">WTGS</div>
<div class="m" style="right:385.50px;top:458.03px;color:#0b5cd5;">28</div>
<div class="m" style="right:338.80px;top:458.03px;color:#0b5cd5;">(28.1)</div>
<div class="m" style="right:304.70px;top:458.03px;color:#0b5cd5;">Fox</div>
<div class="m" style="right:251.00px;top:458.03px;color:#0b5cd5;">-16.8</div>
<div class="m" style="right:191.70px;top:458.03px;color:#0b5cd5;">-107.6</div>
<div class="m" style="left:590.6px;width:100px;text-align:center;top:458.03px;color:#0b5cd5">Tropo</div>
<div class="m" style="right:96.00px;top:458.03px;color:#0b5cd5;">119.9</div>
<div class="m" style="right:55.20px;top:458.03px;color:#d01828;">9°</div>
<div class="m" style="right:9.10px;top:458.03px;color:#d01828;">(15°)</div>
<div class="ab" style="left:306.2px;top:457.06px">a</div>
<div class="cb" style="left:312.9px;top:457.06px">C</div>
<div class="r" style="top:468.23px;height:11.57px;background:#e6e6e6"></div>
<div style="position:absolute;left:504.2px;width:53.3px;top:468.23px;height:11.57px;background:#d4d4d4"></div>
<div class="m" style="left:326.00px;top:469.20px;color:#0b5cd5;">WMFE-DT</div>
<div class="m" style="right:385.50px;top:469.20px;color:#0b5cd5;">23</div>
<div class="m" style="right:338.80px;top:469.20px;color:#0b5cd5;">(24.1)</div>
<div class="m" style="right:304.70px;top:469.20px;color:#0b5cd5;">PBS</div>
<div class="m" style="right:251.00px;top:469.20px;color:#0b5cd5;">-17.1</div>
<div class="m" style="right:191.70px;top:469.20px;color:#0b5cd5;">-107.9</div>
<div class="m" style="left:590.6px;width:100px;text-align:center;top:469.20px;color:#0b5cd5">Tropo</div>
<div class="m" style="right:96.00px;top:469.20px;color:#0b5cd5;">123.5</div>
<div class="m" style="right:55.20px;top:469.20px;color:#108070;">164°</div>
<div class="m" style="right:9.10px;top:469.20px;color:#108070;">(170°)</div>
<div class="ab" style="left:306.2px;top:468.23px">a</div>
<div class="cb" style="left:312.9px;top:468.23px">C</div>
<div class="r" style="top:479.40px;height:11.57px;background:#e6e6e6"></div>
<div style="position:absolute;left:504.2px;width:53.3px;top:479.40px;height:11.57px;background:#d4d4d4"></div>
<div class="m" style="left:326.00px;top:480.37px;color:#0b5cd5;">WESH-DT</div>
<div class="m" style="right:385.50px;top:480.37px;color:#0b5cd5;">11</div>
<div class="m" style="right:338.80px;top:480.37px;color:#0b5cd5;">(2.1)</div>
<div class="m" style="right:304.70px;top:480.37px;color:#0b5cd5;">NBC</div>
<div class="m" style="right:251.00px;top:480.37px;color:#0b5cd5;">-17.2</div>
<div class="m" style="right:191.70px;top:480.37px;color:#0b5cd5;">-108.1</div>
<div class="m" style="left:590.6px;width:100px;text-align:center;top:480.37px;color:#0b5cd5">Tropo</div>
<div class="m" style="right:96.00px;top:480.37px;color:#0b5cd5;">123.6</div>
<div class="m" style="right:55.20px;top:480.37px;color:#108070;">163°</div>
<div class="m" style="right:9.10px;top:480.37px;color:#108070;">(169°)</div>
<div class="ab" style="left:306.2px;top:479.40px">a</div>
<div class="cb" style="left:312.9px;top:479.40px">C</div>
<div class="r" style="top:490.57px;height:11.57px;background:#e6e6e6"></div>
<div style="position:absolute;left:504.2px;width:53.3px;top:490.57px;height:11.57px;background:#d4d4d4"></div>
<div class="m" style="left:326.00px;top:491.54px;color:#0b5cd5;">WSAV-DT</div>
<div class="m" style="right:385.50px;top:491.54px;color:#0b5cd5;">39</div>
<div class="m" style="right:338.80px;top:491.54px;color:#0b5cd5;">(3.1)</div>
<div class="m" style="right:304.70px;top:491.54px;color:#0b5cd5;">NBC</div>
<div class="m" style="right:251.00px;top:491.54px;color:#0b5cd5;">-17.3</div>
<div class="m" style="right:191.70px;top:491.54px;color:#0b5cd5;">-108.1</div>
<div class="m" style="left:590.6px;width:100px;text-align:center;top:491.54px;color:#0b5cd5">Tropo</div>
<div class="m" style="right:96.00px;top:491.54px;color:#0b5cd5;">121.2</div>
<div class="m" style="right:55.20px;top:491.54px;color:#d01828;">10°</div>
<div class="m" style="right:9.10px;top:491.54px;color:#d01828;">(16°)</div>
<div class="ab" style="left:306.2px;top:490.57px">a</div>
<div class="cb" style="left:312.9px;top:490.57px">C</div>
<div class="r" style="top:501.74px;height:11.57px;background:#e6e6e6"></div>
<div style="position:absolute;left:504.2px;width:53.3px;top:501.74px;height:11.57px;background:#d4d4d4"></div>
<div class="m" style="left:326.00px;top:502.71px;color:#0b5cd5;">WRBW-DT</div>
<div class="m" style="right:385.50px;top:502.71px;color:#0b5cd5;">41</div>
<div class="m" style="right:338.80px;top:502.71px;color:#0b5cd5;">(65.1)</div>
<div class="m" style="right:304.70px;top:502.71px;color:#0b5cd5;">MyN</div>
<div class="m" style="right:251.00px;top:502.71px;color:#0b5cd5;">-17.5</div>
<div class="m" style="right:191.70px;top:502.71px;color:#0b5cd5;">-108.3</div>
<div class="m" style="left:590.6px;width:100px;text-align:center;top:502.71px;color:#0b5cd5">Tropo</div>
<div class="m" style="right:96.00px;top:502.71px;color:#0b5cd5;">123.6</div>
<div class="m" style="right:55.20px;top:502.71px;color:#108070;">163°</div>
<div class="m" style="right:9.10px;top:502.71px;color:#108070;">(169°)</div>
<div class="ab" style="left:306.2px;top:501.74px">a</div>
<div class="cb" style="left:312.9px;top:501.74px">C</div>
<div class="r" style="top:512.91px;height:11.57px;background:#e6e6e6"></div>
<div style="position:absolute;left:504.2px;width:53.3px;top:512.91px;height:11.57px;background:#d4d4d4"></div>
<div class="m" style="left:326.00px;top:513.88px;color:#0b5cd5;">WTGL-DT</div>
<div class="m" style="right:385.50px;top:513.88px;color:#0b5cd5;">46</div>
<div class="m" style="right:338.80px;top:513.88px;color:#0b5cd5;">(45.1)</div>
<div class="m" style="right:304.70px;top:513.88px;color:#0b5cd5;">Ind</div>
<div class="m" style="right:251.00px;top:513.88px;color:#0b5cd5;">-17.5</div>
<div class="m" style="right:191.70px;top:513.88px;color:#0b5cd5;">-108.4</div>
<div class="m" style="left:590.6px;width:100px;text-align:center;top:513.88px;color:#0b5cd5">Tropo</div>
<div class="m" style="right:96.00px;top:513.88px;color:#0b5cd5;">124.7</div>
<div class="m" style="right:55.20px;top:513.88px;color:#108070;">164°</div>
<div class="m" style="right:9.10px;top:513.88px;color:#108070;">(170°)</div>
<div class="ab" style="left:306.2px;top:512.91px">a</div>
<div class="cb" style="left:312.9px;top:512.91px">C</div>
<div class="r" style="top:524.08px;height:11.57px;background:#e6e6e6"></div>
<div style="position:absolute;left:504.2px;width:53.3px;top:524.08px;height:11.57px;background:#d4d4d4"></div>
<div class="m" style="left:326.00px;top:525.05px;color:#0b5cd5;">WRDQ</div>
<div class="m" style="right:385.50px;top:525.05px;color:#0b5cd5;">27</div>
<div class="m" style="right:304.70px;top:525.05px;color:#0b5cd5;">Ind</div>
<div class="m" style="right:251.00px;top:525.05px;color:#0b5cd5;">-17.7</div>
<div class="m" style="right:191.70px;top:525.05px;color:#0b5cd5;">-108.6</div>
<div class="m" style="left:590.6px;width:100px;text-align:center;top:525.05px;color:#0b5cd5">Tropo</div>
<div class="m" style="right:96.00px;top:525.05px;color:#0b5cd5;">126.4</div>
<div class="m" style="right:55.20px;top:525.05px;color:#108070;">163°</div>
<div class="m" style="right:9.10px;top:525.05px;color:#108070;">(169°)</div>
<div class="ab" style="left:306.2px;top:524.08px">a</div>
<div class="cb" style="left:312.9px;top:524.08px">C</div>
<div class="r" style="top:535.25px;height:11.57px;background:#e6e6e6"></div>
<div style="position:absolute;left:504.2px;width:53.3px;top:535.25px;height:11.57px;background:#d4d4d4"></div>
<div class="m" style="left:326.00px;top:536.22px;color:#0b5cd5;">WKMG-DT</div>
<div class="m" style="right:385.50px;top:536.22px;color:#0b5cd5;">26</div>
<div class="m" style="right:338.80px;top:536.22px;color:#0b5cd5;">(6.1)</div>
<div class="m" style="right:304.70px;top:536.22px;color:#0b5cd5;">CBS</div>
<div class="m" style="right:251.00px;top:536.22px;color:#0b5cd5;">-17.9</div>
<div class="m" style="right:191.70px;top:536.22px;color:#0b5cd5;">-108.7</div>
<div class="m" style="left:590.6px;width:100px;text-align:center;top:536.22px;color:#0b5cd5">Tropo</div>
<div class="m" style="right:96.00px;top:536.22px;color:#0b5cd5;">123.6</div>
<div class="m" style="right:55.20px;top:536.22px;color:#108070;">163°</div>
<div class="m" style="right:9.10px;top:536.22px;color:#108070;">(169°)</div>
<div class="ab" style="left:306.2px;top:535.25px">a</div>
<div class="cb" style="left:312.9px;top:535.25px">C</div>
<div class="r" style="top:546.42px;height:11.57px;background:#e6e6e6"></div>
<div style="position:absolute;left:504.2px;width:53.3px;top:546.42px;height:11.57px;background:#d4d4d4"></div>
<div class="m" style="left:326.00px;top:547.39px;color:#0b5cd5;">WFTV</div>
<div class="m" style="right:385.50px;top:547.39px;color:#0b5cd5;">39</div>
<div class="m" style="right:304.70px;top:547.39px;color:#0b5cd5;">ABC</div>
<div class="m" style="right:251.00px;top:547.39px;color:#0b5cd5;">-19.0</div>
<div class="m" style="right:191.70px;top:547.39px;color:#0b5cd5;">-109.8</div>
<div class="m" style="left:590.6px;width:100px;text-align:center;top:547.39px;color:#0b5cd5">Tropo</div>
<div class="m" style="right:96.00px;top:547.39px;color:#0b5cd5;">126.4</div>
<div class="m" style="right:55.20px;top:547.39px;color:#108070;">163°</div>
<div class="m" style="right:9.10px;top:547.39px;color:#108070;">(169°)</div>
<div class="ab" style="left:306.2px;top:546.42px">a</div>
<div class="cb" style="left:312.9px;top:546.42px">C</div>
<div class="r" style="top:557.59px;height:11.57px;background:#e6e6e6"></div>
<div style="position:absolute;left:504.2px;width:53.3px;top:557.59px;height:11.57px;background:#d4d4d4"></div>
<div class="m" style="left:326.00px;top:558.56px;color:#0b5cd5;">WHLV-DT</div>
<div class="m" style="right:385.50px;top:558.56px;color:#0b5cd5;">51</div>
<div class="m" style="right:338.80px;top:558.56px;color:#0b5cd5;">(52.1)</div>
<div class="m" style="right:251.00px;top:558.56px;color:#0b5cd5;">-19.4</div>
<div class="m" style="right:191.70px;top:558.56px;color:#0b5cd5;">-110.2</div>
<div class="m" style="left:590.6px;width:100px;text-align:center;top:558.56px;color:#0b5cd5">Tropo</div>
<div class="m" style="right:96.00px;top:558.56px;color:#0b5cd5;">124.7</div>
<div class="m" style="right:55.20px;top:558.56px;color:#108070;">164°</div>
<div class="m" style="right:9.10px;top:558.56px;color:#108070;">(170°)</div>
<div class="ab" style="left:306.2px;top:557.59px">a</div>
<div class="r" style="top:568.76px;height:11.57px;background:#e6e6e6"></div>
<div style="position:absolute;left:504.2px;width:53.3px;top:568.76px;height:11.57px;background:#d4d4d4"></div>
<div class="m" style="left:326.00px;top:569.73px;color:#0b5cd5;">WNFT-LD</div>
<div class="m" style="right:385.50px;top:569.73px;color:#0b5cd5;">15</div>
<div class="m" style="right:251.00px;top:569.73px;color:#0b5cd5;">-19.8</div>
<div class="m" style="right:191.70px;top:569.73px;color:#0b5cd5;">-110.6</div>
<div class="m" style="left:590.6px;width:100px;text-align:center;top:569.73px;color:#0b5cd5">2Edge</div>
<div class="m" style="right:96.00px;top:569.73px;color:#0b5cd5;">73.0</div>
<div class="m" style="right:55.20px;top:569.73px;color:#1828b0;">229°</div>
<div class="m" style="right:9.10px;top:569.73px;color:#1828b0;">(235°)</div>
<div class="ab" style="left:306.2px;top:568.76px">a</div>
<div class="cb" style="left:312.9px;top:568.76px">C</div>
<div class="r" style="top:579.93px;height:11.57px;background:#e6e6e6"></div>
<div style="position:absolute;left:504.2px;width:53.3px;top:579.93px;height:11.57px;background:#d4d4d4"></div>
<div class="m" style="left:326.00px;top:580.90px;color:#0b5cd5;">WJCL</div>
<div class="m" style="right:385.50px;top:580.90px;color:#0b5cd5;">22</div>
<div class="m" style="right:338.80px;top:580.90px;color:#0b5cd5;">(22.1)</div>
<div class="m" style="right:304.70px;top:580.90px;color:#0b5cd5;">ABC</div>
<div class="m" style="right:251.00px;top:580.90px;color:#0b5cd5;">-20.3</div>
<div class="m" style="right:191.70px;top:580.90px;color:#0b5cd5;">-111.2</div>
<div class="m" style="left:590.6px;width:100px;text-align:center;top:580.90px;color:#0b5cd5">Tropo</div>
<div class="m" style="right:96.00px;top:580.90px;color:#0b5cd5;">120.8</div>
<div class="m" style="right:55.20px;top:580.90px;color:#d01828;">9°</div>
<div class="m" style="right:9.10px;top:580.90px;color:#d01828;">(15°)</div>
<div class="cb" style="left:312.9px;top:579.93px">C</div>
<div class="r" style="top:591.10px;height:11.57px;background:#e6e6e6"></div>
<div style="position:absolute;left:504.2px;width:53.3px;top:591.10px;height:11.57px;background:#d4d4d4"></div>
<div class="m" style="left:326.00px;top:592.07px;color:#0b5cd5;">WBCC</div>
<div class="m" style="right:385.50px;top:592.07px;color:#0b5cd5;">30</div>
<div class="m" style="right:304.70px;top:592.07px;color:#0b5cd5;">PBS</div>
<div class="m" style="right:251.00px;top:592.07px;color:#0b5cd5;">-21.0</div>
<div class="m" style="right:191.70px;top:592.07px;color:#0b5cd5;">-111.8</div>
<div class="m" style="left:590.6px;width:100px;text-align:center;top:592.07px;color:#0b5cd5">Tropo</div>
<div class="m" style="right:96.00px;top:592.07px;color:#0b5cd5;">123.6</div>
<div class="m" style="right:55.20px;top:592.07px;color:#108070;">163°</div>
<div class="m" style="right:9.10px;top:592.07px;color:#108070;">(169°)</div>
<div class="ab" style="left:306.2px;top:591.10px">a</div>
<div style="position:absolute;left:323px;width:467px;top:42.77px;height:1px;background:#bed2be;opacity:0.9"></div>
<div style="position:absolute;left:323px;width:467px;top:53.94px;height:1px;background:#bed2be;opacity:0.9"></div>
<div style="position:absolute;left:323px;width:467px;top:65.11px;height:1px;background:#bed2be;opacity:0.9"></div>
<div style="position:absolute;left:323px;width:467px;top:76.28px;height:1px;background:#bed2be;opacity:0.9"></div>
<div style="position:absolute;left:323px;width:467px;top:87.45px;height:1px;background:#bed2be;opacity:0.9"></div>
<div style="position:absolute;left:323px;width:467px;top:98.62px;height:1px;background:#bed2be;opacity:0.9"></div>
<div style="position:absolute;left:323px;width:467px;top:109.79px;height:1px;background:#bed2be;opacity:0.9"></div>
<div style="position:absolute;left:323px;width:467px;top:120.96px;height:1px;background:#bed2be;opacity:0.9"></div>
<div style="position:absolute;left:323px;width:467px;top:132.13px;height:1px;background:#bed2be;opacity:0.9"></div>
<div style="position:absolute;left:323px;width:467px;top:143.30px;height:1px;background:#bed2be;opacity:0.9"></div>
<div style="position:absolute;left:323px;width:467px;top:154.47px;height:1px;background:#bed2be;opacity:0.9"></div>
<div style="position:absolute;left:323px;width:467px;top:165.64px;height:1px;background:#bed2be;opacity:0.9"></div>
<div style="position:absolute;left:323px;width:467px;top:176.81px;height:1px;background:#bed2be;opacity:0.9"></div>
<div style="position:absolute;left:323px;width:467px;top:187.98px;height:1px;background:#bed2be;opacity:0.9"></div>
<div style="position:absolute;left:323px;width:467px;top:199.15px;height:1px;background:#bed2be;opacity:0.9"></div>
<div style="position:absolute;left:323px;width:467px;top:210.32px;height:1px;background:#bed2be;opacity:0.9"></div>
<div style="position:absolute;left:323px;width:467px;top:221.49px;height:1px;background:#bed2be;opacity:0.9"></div>
<div style="position:absolute;left:323px;width:467px;top:232.66px;height:1px;background:#bed2be;opacity:0.9"></div>
<div style="position:absolute;left:323px;width:467px;top:243.83px;height:1px;background:#bed2be;opacity:0.9"></div>
<div style="position:absolute;left:323px;width:467px;top:255.00px;height:1px;background:#bed2be;opacity:0.9"></div>
<div style="position:absolute;left:323px;width:467px;top:266.17px;height:1px;background:#bed2be;opacity:0.9"></div>
<div style="position:absolute;left:323px;width:467px;top:277.34px;height:1px;background:#bed2be;opacity:0.9"></div>
<div style="position:absolute;left:323px;width:467px;top:288.51px;height:1px;background:#c4d3bf;opacity:0.9"></div>
<div style="position:absolute;left:323px;width:467px;top:299.68px;height:1px;background:#d6d5c1;opacity:0.9"></div>
<div style="position:absolute;left:323px;width:467px;top:310.85px;height:1px;background:#d6d5c1;opacity:0.9"></div>
<div style="position:absolute;left:323px;width:467px;top:322.02px;height:1px;background:#d6d5c1;opacity:0.9"></div>
<div style="position:absolute;left:323px;width:467px;top:333.19px;height:1px;background:#d6c1c1;opacity:0.9"></div>
<div style="position:absolute;left:323px;width:467px;top:344.36px;height:1px;background:#d6c1c1;opacity:0.9"></div>
<div style="position:absolute;left:323px;width:467px;top:355.53px;height:1px;background:#d6c1c1;opacity:0.9"></div>
<div style="position:absolute;left:323px;width:467px;top:366.70px;height:1px;background:#cbc1c1;opacity:0.9"></div>
<div style="position:absolute;left:323px;width:467px;top:377.87px;height:1px;background:#c5c1c1;opacity:0.9"></div>
<div style="position:absolute;left:323px;width:467px;top:389.04px;height:1px;background:#c2c1c1;opacity:0.9"></div>
<div style="position:absolute;left:323px;width:467px;top:400.21px;height:1px;background:#c1c1c1;opacity:0.9"></div>
<div style="position:absolute;left:323px;width:467px;top:411.38px;height:1px;background:#c1c1c1;opacity:0.9"></div>
<div style="position:absolute;left:323px;width:467px;top:422.55px;height:1px;background:#c1c1c1;opacity:0.9"></div>
<div style="position:absolute;left:323px;width:467px;top:433.72px;height:1px;background:#c1c1c1;opacity:0.9"></div>
<div style="position:absolute;left:323px;width:467px;top:444.89px;height:1px;background:#c1c1c1;opacity:0.9"></div>
<div style="position:absolute;left:323px;width:467px;top:456.06px;height:1px;background:#c1c1c1;opacity:0.9"></div>
<div style="position:absolute;left:323px;width:467px;top:467.23px;height:1px;background:#c1c1c1;opacity:0.9"></div>
<div style="position:absolute;left:323px;width:467px;top:478.40px;height:1px;background:#c1c1c1;opacity:0.9"></div>
<div style="position:absolute;left:323px;width:467px;top:489.57px;height:1px;background:#c1c1c1;opacity:0.9"></div>
<div style="position:absolute;left:323px;width:467px;top:500.74px;height:1px;background:#c1c1c1;opacity:0.9"></div>
<div style="position:absolute;left:323px;width:467px;top:511.91px;height:1px;background:#c1c1c1;opacity:0.9"></div>
<div style="position:absolute;left:323px;width:467px;top:523.08px;height:1px;background:#c1c1c1;opacity:0.9"></div>
<div style="position:absolute;left:323px;width:467px;top:534.25px;height:1px;background:#c1c1c1;opacity:0.9"></div>
<div style="position:absolute;left:323px;width:467px;top:545.42px;height:1px;background:#c1c1c1;opacity:0.9"></div>
<div style="position:absolute;left:323px;width:467px;top:556.59px;height:1px;background:#c1c1c1;opacity:0.9"></div>
<div style="position:absolute;left:323px;width:467px;top:567.76px;height:1px;background:#c1c1c1;opacity:0.9"></div>
<div style="position:absolute;left:323px;width:467px;top:578.93px;height:1px;background:#c1c1c1;opacity:0.9"></div>
<div style="position:absolute;left:323px;width:467px;top:590.10px;height:1px;background:#c1c1c1;opacity:0.9"></div>
<div style="position:absolute;left:323px;width:467px;top:601.27px;height:1px;background:#c1c1c1;opacity:0.9"></div>
<div class="t" style="left:0;width:303px;text-align:center;top:44px;font-weight:bold;font-size:14.6px">All Channels</div>
<div class="t" style="left:0;width:303px;text-align:center;top:68px;font-size:11px">TrueNorth</div>
<div class="t" style="left:0;width:303px;text-align:center;top:391.5px;font-weight:bold;font-size:12.2px;text-decoration:underline">Search Criteria</div>
<div class="t" style="left:0;width:303px;text-align:center;top:414.3px;font-size:12.2px;line-height:12.2px;white-space:pre">CURRENT+PENDING
Address: exact
Jacksonville, FL
Height: 25.0 ft.</div>
<div class="t" style="left:0;width:303px;text-align:center;top:489.4px;font-size:12px;line-height:11.5px;white-space:pre">db datecode
201112090132</div>
<div class="t" style="left:0;width:303px;text-align:center;top:589px;font-size:14.2px;color:#1a1acc;text-decoration:underline;text-underline-offset:2px">www.tvfool.com</div>
<svg style="position:absolute;left:0;top:0" width="305" height="380" viewBox="0 0 305 380">
<defs><radialGradient id="rg" cx="151.5" cy="223.5" r="128" gradientUnits="userSpaceOnUse">
<stop offset="0.0000" stop-color="#e2fbe2"/>
<stop offset="0.5078" stop-color="#e2fbe2"/>
<stop offset="0.5570" stop-color="#ffffe2"/>
<stop offset="0.6719" stop-color="#ffffe2"/>
<stop offset="0.7211" stop-color="#ffe4e4"/>
<stop offset="0.8359" stop-color="#ffe4e4"/>
<stop offset="0.8852" stop-color="#e0e0e0"/>
<stop offset="1.0000" stop-color="#e0e0e0"/>
</radialGradient></defs>
<path d="M151.50 223.50 L144.98 79.85 A143.8 143.8 0 0 1 158.02 79.85 Z" fill="#ffe0e0"/>
<path d="M151.50 223.50 L157.52 79.83 A143.8 143.8 0 0 1 170.52 80.96 Z" fill="#ffe3e0"/>
<path d="M151.50 223.50 L170.02 80.90 A143.8 143.8 0 0 1 182.87 83.16 Z" fill="#ffe5e0"/>
<path d="M151.50 223.50 L182.38 83.05 A143.8 143.8 0 0 1 194.98 86.43 Z" fill="#ffe8e0"/>
<path d="M151.50 223.50 L194.50 86.28 A143.8 143.8 0 0 1 206.76 90.74 Z" fill="#ffebe0"/>
<path d="M151.50 223.50 L206.30 90.55 A143.8 143.8 0 0 1 218.12 96.06 Z" fill="#ffede0"/>
<path d="M151.50 223.50 L217.68 95.83 A143.8 143.8 0 0 1 228.98 102.36 Z" fill="#fff0e0"/>
<path d="M151.50 223.50 L228.55 102.09 A143.8 143.8 0 0 1 239.24 109.57 Z" fill="#fff2e0"/>
<path d="M151.50 223.50 L238.84 109.26 A143.8 143.8 0 0 1 248.83 117.65 Z" fill="#fff5e0"/>
<path d="M151.50 223.50 L248.46 117.31 A143.8 143.8 0 0 1 257.69 126.54 Z" fill="#fff7e0"/>
<path d="M151.50 223.50 L257.35 126.17 A143.8 143.8 0 0 1 265.74 136.16 Z" fill="#fffae0"/>
<path d="M151.50 223.50 L265.43 135.76 A143.8 143.8 0 0 1 272.91 146.45 Z" fill="#fffce0"/>
<path d="M151.50 223.50 L272.64 146.02 A143.8 143.8 0 0 1 279.17 157.32 Z" fill="#ffffe0"/>
<path d="M151.50 223.50 L278.94 156.88 A143.8 143.8 0 0 1 284.45 168.70 Z" fill="#fcffe0"/>
<path d="M151.50 223.50 L284.26 168.24 A143.8 143.8 0 0 1 288.72 180.50 Z" fill="#faffe0"/>
<path d="M151.50 223.50 L288.57 180.02 A143.8 143.8 0 0 1 291.95 192.62 Z" fill="#f7ffe0"/>
<path d="M151.50 223.50 L291.84 192.13 A143.8 143.8 0 0 1 294.10 204.98 Z" fill="#f5ffe0"/>
<path d="M151.50 223.50 L294.04 204.48 A143.8 143.8 0 0 1 295.17 217.48 Z" fill="#f2ffe0"/>
<path d="M151.50 223.50 L295.15 216.98 A143.8 143.8 0 0 1 295.15 230.02 Z" fill="#f0ffe0"/>
<path d="M151.50 223.50 L295.17 229.52 A143.8 143.8 0 0 1 294.04 242.52 Z" fill="#edffe0"/>
<path d="M151.50 223.50 L294.10 242.02 A143.8 143.8 0 0 1 291.84 254.87 Z" fill="#ebffe0"/>
<path d="M151.50 223.50 L291.95 254.38 A143.8 143.8 0 0 1 288.57 266.98 Z" fill="#e8ffe0"/>
<path d="M151.50 223.50 L288.72 266.50 A143.8 143.8 0 0 1 284.26 278.76 Z" fill="#e5ffe0"/>
<path d="M151.50 223.50 L284.45 278.30 A143.8 143.8 0 0 1 278.94 290.12 Z" fill="#e3ffe0"/>
<path d="M151.50 223.50 L279.17 289.68 A143.8 143.8 0 0 1 272.64 300.98 Z" fill="#e0ffe0"/>
<path d="M151.50 223.50 L272.91 300.55 A143.8 143.8 0 0 1 265.43 311.24 Z" fill="#e0ffe3"/>
<path d="M151.50 223.50 L265.74 310.84 A143.8 143.8 0 0 1 257.35 320.83 Z" fill="#e0ffe5"/>
<path d="M151.50 223.50 L257.69 320.46 A143.8 143.8 0 0 1 248.46 329.69 Z" fill="#e0ffe8"/>
<path d="M151.50 223.50 L248.83 329.35 A143.8 143.8 0 0 1 238.84 337.74 Z" fill="#e0ffeb"/>
<path d="M151.50 223.50 L239.24 337.43 A143.8 143.8 0 0 1 228.55 344.91 Z" fill="#e0ffed"/>
<path d="M151.50 223.50 L228.98 344.64 A143.8 143.8 0 0 1 217.68 351.17 Z" fill="#e0fff0"/>
<path d="M151.50 223.50 L218.12 350.94 A143.8 143.8 0 0 1 206.30 356.45 Z" fill="#e0fff2"/>
<path d="M151.50 223.50 L206.76 356.26 A143.8 143.8 0 0 1 194.50 360.72 Z" fill="#e0fff5"/>
<path d="M151.50 223.50 L194.98 360.57 A143.8 143.8 0 0 1 182.38 363.95 Z" fill="#e0fff7"/>
<path d="M151.50 223.50 L182.87 363.84 A143.8 143.8 0 0 1 170.02 366.10 Z" fill="#e0fffa"/>
<path d="M151.50 223.50 L170.52 366.04 A143.8 143.8 0 0 1 157.52 367.17 Z" fill="#e0fffc"/>
<path d="M151.50 223.50 L158.02 367.15 A143.8 143.8 0 0 1 144.98 367.15 Z" fill="#e0ffff"/>
<path d="M151.50 223.50 L145.48 367.17 A143.8 143.8 0 0 1 132.48 366.04 Z" fill="#e0fcff"/>
<path d="M151.50 223.50 L132.98 366.10 A143.8 143.8 0 0 1 120.13 363.84 Z" fill="#e0faff"/>
<path d="M151.50 223.50 L120.62 363.95 A143.8 143.8 0 0 1 108.02 360.57 Z" fill="#e0f7ff"/>
<path d="M151.50 223.50 L108.50 360.72 A143.8 143.8 0 0 1 96.24 356.26 Z" fill="#e0f5ff"/>
<path d="M151.50 223.50 L96.70 356.45 A143.8 143.8 0 0 1 84.88 350.94 Z" fill="#e0f2ff"/>
<path d="M151.50 223.50 L85.32 351.17 A143.8 143.8 0 0 1 74.02 344.64 Z" fill="#e0f0ff"/>
<path d="M151.50 223.50 L74.45 344.91 A143.8 143.8 0 0 1 63.76 337.43 Z" fill="#e0edff"/>
<path d="M151.50 223.50 L64.16 337.74 A143.8 143.8 0 0 1 54.17 329.35 Z" fill="#e0ebff"/>
<path d="M151.50 223.50 L54.54 329.69 A143.8 143.8 0 0 1 45.31 320.46 Z" fill="#e0e8ff"/>
<path d="M151.50 223.50 L45.65 320.83 A143.8 143.8 0 0 1 37.26 310.84 Z" fill="#e0e5ff"/>
<path d="M151.50 223.50 L37.57 311.24 A143.8 143.8 0 0 1 30.09 300.55 Z" fill="#e0e3ff"/>
<path d="M151.50 223.50 L30.36 300.98 A143.8 143.8 0 0 1 23.83 289.68 Z" fill="#e0e0ff"/>
<path d="M151.50 223.50 L24.06 290.12 A143.8 143.8 0 0 1 18.55 278.30 Z" fill="#e3e0ff"/>
<path d="M151.50 223.50 L18.74 278.76 A143.8 143.8 0 0 1 14.28 266.50 Z" fill="#e5e0ff"/>
<path d="M151.50 223.50 L14.43 266.98 A143.8 143.8 0 0 1 11.05 254.38 Z" fill="#e8e0ff"/>
<path d="M151.50 223.50 L11.16 254.87 A143.8 143.8 0 0 1 8.90 242.02 Z" fill="#ebe0ff"/>
<path d="M151.50 223.50 L8.96 242.52 A143.8 143.8 0 0 1 7.83 229.52 Z" fill="#ede0ff"/>
<path d="M151.50 223.50 L7.85 230.02 A143.8 143.8 0 0 1 7.85 216.98 Z" fill="#f0e0ff"/>
<path d="M151.50 223.50 L7.83 217.48 A143.8 143.8 0 0 1 8.96 204.48 Z" fill="#f2e0ff"/>
<path d="M151.50 223.50 L8.90 204.98 A143.8 143.8 0 0 1 11.16 192.13 Z" fill="#f5e0ff"/>
<path d="M151.50 223.50 L11.05 192.62 A143.8 143.8 0 0 1 14.43 180.02 Z" fill="#f7e0ff"/>
<path d="M151.50 223.50 L14.28 180.50 A143.8 143.8 0 0 1 18.74 168.24 Z" fill="#fae0ff"/>
<path d="M151.50 223.50 L18.55 168.70 A143.8 143.8 0 0 1 24.06 156.88 Z" fill="#fce0ff"/>
<path d="M151.50 223.50 L23.83 157.32 A143.8 143.8 0 0 1 30.36 146.02 Z" fill="#ffe0ff"/>
<path d="M151.50 223.50 L30.09 146.45 A143.8 143.8 0 0 1 37.57 135.76 Z" fill="#ffe0fc"/>
<path d="M151.50 223.50 L37.26 136.16 A143.8 143.8 0 0 1 45.65 126.17 Z" fill="#ffe0fa"/>
<path d="M151.50 223.50 L45.31 126.54 A143.8 143.8 0 0 1 54.54 117.31 Z" fill="#ffe0f7"/>
<path d="M151.50 223.50 L54.17 117.65 A143.8 143.8 0 0 1 64.16 109.26 Z" fill="#ffe0f5"/>
<path d="M151.50 223.50 L63.76 109.57 A143.8 143.8 0 0 1 74.45 102.09 Z" fill="#ffe0f2"/>
<path d="M151.50 223.50 L74.02 102.36 A143.8 143.8 0 0 1 85.32 95.83 Z" fill="#ffe0f0"/>
<path d="M151.50 223.50 L84.88 96.06 A143.8 143.8 0 0 1 96.70 90.55 Z" fill="#ffe0ed"/>
<path d="M151.50 223.50 L96.24 90.74 A143.8 143.8 0 0 1 108.50 86.28 Z" fill="#ffe0eb"/>
<path d="M151.50 223.50 L108.02 86.43 A143.8 143.8 0 0 1 120.62 83.05 Z" fill="#ffe0e8"/>
<path d="M151.50 223.50 L120.13 83.16 A143.8 143.8 0 0 1 132.98 80.90 Z" fill="#ffe0e5"/>
<path d="M151.50 223.50 L132.48 80.96 A143.8 143.8 0 0 1 145.48 79.83 Z" fill="#ffe0e3"/>
<circle cx="151.5" cy="223.5" r="128.3" fill="url(#rg)"/>
<circle cx="151.5" cy="223.5" r="23.8" fill="#fff"/>
<circle cx="151.5" cy="223.5" r="23.8" fill="none" stroke="#333" stroke-width="0.75"/>
<circle cx="151.5" cy="223.5" r="44.8" fill="none" stroke="#333" stroke-width="0.75"/>
<circle cx="151.5" cy="223.5" r="65.6" fill="none" stroke="#333" stroke-width="0.75"/>
<circle cx="151.5" cy="223.5" r="86.5" fill="none" stroke="#333" stroke-width="0.75"/>
<circle cx="151.5" cy="223.5" r="107.3" fill="none" stroke="#333" stroke-width="0.75"/>
<circle cx="151.5" cy="223.5" r="128.3" fill="none" stroke="#333" stroke-width="0.75"/>
<line x1="7" y1="223.5" x2="297" y2="223.5" stroke="#000" stroke-width="1" stroke-dasharray="1 1.2"/>
<line x1="151.5" y1="79" x2="151.5" y2="368" stroke="#000" stroke-width="1" stroke-dasharray="1 1.2"/>
<line x1="127.75" y1="227.26" x2="25.08" y2="243.52" stroke="#fff" stroke-opacity="0.35" stroke-width="5.2"/>
<line x1="127.75" y1="227.26" x2="25.08" y2="243.52" stroke="#0a2a70" stroke-width="3.6"/>
<line x1="127.75" y1="227.26" x2="25.08" y2="243.52" stroke="#0b5cd5" stroke-width="2.4"/>
<line x1="119.97" y1="228.49" x2="25.08" y2="243.52" stroke="#fff" stroke-opacity="0.35" stroke-width="5.2"/>
<line x1="119.97" y1="228.49" x2="25.08" y2="243.52" stroke="#300060" stroke-width="3.6"/>
<line x1="119.97" y1="228.49" x2="25.08" y2="243.52" stroke="#7010d0" stroke-width="2.4"/>
<line x1="178.57" y1="240.42" x2="260.05" y2="291.33" stroke="#fff" stroke-opacity="0.35" stroke-width="5.2"/>
<line x1="178.57" y1="240.42" x2="260.05" y2="291.33" stroke="#0a2a70" stroke-width="3.6"/>
<line x1="178.57" y1="240.42" x2="260.05" y2="291.33" stroke="#0b5cd5" stroke-width="2.4"/>
<line x1="118.83" y1="228.67" x2="25.08" y2="243.52" stroke="#fff" stroke-opacity="0.35" stroke-width="5.2"/>
<line x1="118.83" y1="228.67" x2="25.08" y2="243.52" stroke="#300060" stroke-width="3.6"/>
<line x1="118.83" y1="228.67" x2="25.08" y2="243.52" stroke="#7010d0" stroke-width="2.4"/>
<line x1="180.94" y1="241.19" x2="261.22" y2="289.42" stroke="#fff" stroke-opacity="0.35" stroke-width="5.2"/>
<line x1="180.94" y1="241.19" x2="261.22" y2="289.42" stroke="#0a2a70" stroke-width="3.6"/>
<line x1="180.94" y1="241.19" x2="261.22" y2="289.42" stroke="#0b5cd5" stroke-width="2.4"/>
<line x1="180.94" y1="241.19" x2="261.22" y2="289.42" stroke="#fff" stroke-opacity="0.35" stroke-width="5.2"/>
<line x1="180.94" y1="241.19" x2="261.22" y2="289.42" stroke="#0a2a70" stroke-width="3.6"/>
<line x1="180.94" y1="241.19" x2="261.22" y2="289.42" stroke="#0b5cd5" stroke-width="2.4"/>
<line x1="180.80" y1="241.81" x2="260.05" y2="291.33" stroke="#fff" stroke-opacity="0.35" stroke-width="5.2"/>
<line x1="180.80" y1="241.81" x2="260.05" y2="291.33" stroke="#0a2a70" stroke-width="3.6"/>
<line x1="180.80" y1="241.81" x2="260.05" y2="291.33" stroke="#0b5cd5" stroke-width="2.4"/>
<line x1="182.02" y1="241.84" x2="261.22" y2="289.42" stroke="#fff" stroke-opacity="0.35" stroke-width="5.2"/>
<line x1="182.02" y1="241.84" x2="261.22" y2="289.42" stroke="#0a2a70" stroke-width="3.6"/>
<line x1="182.02" y1="241.84" x2="261.22" y2="289.42" stroke="#0b5cd5" stroke-width="2.4"/>
<line x1="183.19" y1="242.54" x2="261.22" y2="289.42" stroke="#f8f000" stroke-width="11.5" stroke-linecap="round"/>
<line x1="183.19" y1="242.54" x2="261.22" y2="289.42" stroke="#0a2a70" stroke-width="5.5" stroke-linecap="round"/>
<line x1="183.19" y1="242.54" x2="261.22" y2="289.42" stroke="#0b5cd5" stroke-width="4" stroke-linecap="round"/>
<line x1="183.46" y1="242.70" x2="261.22" y2="289.42" stroke="#f8f000" stroke-width="11.5" stroke-linecap="round"/>
<line x1="183.46" y1="242.70" x2="261.22" y2="289.42" stroke="#0a2a70" stroke-width="5.5" stroke-linecap="round"/>
<line x1="183.46" y1="242.70" x2="261.22" y2="289.42" stroke="#0b5cd5" stroke-width="4" stroke-linecap="round"/>
<line x1="184.90" y1="243.57" x2="261.22" y2="289.42" stroke="#f8f000" stroke-width="11.5" stroke-linecap="round"/>
<line x1="184.90" y1="243.57" x2="261.22" y2="289.42" stroke="#0a2a70" stroke-width="5.5" stroke-linecap="round"/>
<line x1="184.90" y1="243.57" x2="261.22" y2="289.42" stroke="#0b5cd5" stroke-width="4" stroke-linecap="round"/>
<line x1="193.98" y1="236.49" x2="273.91" y2="260.92" stroke="#fff" stroke-opacity="0.35" stroke-width="5.2"/>
<line x1="193.98" y1="236.49" x2="273.91" y2="260.92" stroke="#300060" stroke-width="3.6"/>
<line x1="193.98" y1="236.49" x2="273.91" y2="260.92" stroke="#7010d0" stroke-width="2.4"/>
<line x1="193.00" y1="248.43" x2="261.22" y2="289.42" stroke="#fff" stroke-opacity="0.35" stroke-width="5.2"/>
<line x1="193.00" y1="248.43" x2="261.22" y2="289.42" stroke="#0a2a70" stroke-width="3.6"/>
<line x1="193.00" y1="248.43" x2="261.22" y2="289.42" stroke="#0b5cd5" stroke-width="2.4"/>
<line x1="193.36" y1="248.65" x2="261.22" y2="289.42" stroke="#fff" stroke-opacity="0.35" stroke-width="5.2"/>
<line x1="193.36" y1="248.65" x2="261.22" y2="289.42" stroke="#0a2a70" stroke-width="3.6"/>
<line x1="193.36" y1="248.65" x2="261.22" y2="289.42" stroke="#0b5cd5" stroke-width="2.4"/>
<line x1="194.08" y1="249.08" x2="261.22" y2="289.42" stroke="#fff" stroke-opacity="0.35" stroke-width="5.2"/>
<line x1="194.08" y1="249.08" x2="261.22" y2="289.42" stroke="#0a2a70" stroke-width="3.6"/>
<line x1="194.08" y1="249.08" x2="261.22" y2="289.42" stroke="#0b5cd5" stroke-width="2.4"/>
<line x1="194.98" y1="249.62" x2="261.22" y2="289.42" stroke="#fff" stroke-opacity="0.35" stroke-width="5.2"/>
<line x1="194.98" y1="249.62" x2="261.22" y2="289.42" stroke="#0a2a70" stroke-width="3.6"/>
<line x1="194.98" y1="249.62" x2="261.22" y2="289.42" stroke="#0b5cd5" stroke-width="2.4"/>
<line x1="195.88" y1="250.16" x2="261.22" y2="289.42" stroke="#fff" stroke-opacity="0.35" stroke-width="5.2"/>
<line x1="195.88" y1="250.16" x2="261.22" y2="289.42" stroke="#300060" stroke-width="3.6"/>
<line x1="195.88" y1="250.16" x2="261.22" y2="289.42" stroke="#7010d0" stroke-width="2.4"/>
<line x1="144.28" y1="172.13" x2="133.69" y2="96.75" stroke="#fff" stroke-opacity="0.35" stroke-width="5.2"/>
<line x1="144.28" y1="172.13" x2="133.69" y2="96.75" stroke="#0a2a70" stroke-width="3.6"/>
<line x1="144.28" y1="172.13" x2="133.69" y2="96.75" stroke="#0b5cd5" stroke-width="2.4"/>
<line x1="201.10" y1="253.30" x2="261.22" y2="289.42" stroke="#fff" stroke-opacity="0.35" stroke-width="5.2"/>
<line x1="201.10" y1="253.30" x2="261.22" y2="289.42" stroke="#300060" stroke-width="3.6"/>
<line x1="201.10" y1="253.30" x2="261.22" y2="289.42" stroke="#7010d0" stroke-width="2.4"/>
<line x1="204.13" y1="256.39" x2="260.05" y2="291.33" stroke="#fff" stroke-opacity="0.35" stroke-width="5.2"/>
<line x1="204.13" y1="256.39" x2="260.05" y2="291.33" stroke="#300060" stroke-width="3.6"/>
<line x1="204.13" y1="256.39" x2="260.05" y2="291.33" stroke="#7010d0" stroke-width="2.4"/>
<line x1="102.10" y1="179.02" x2="56.38" y2="137.85" stroke="#fff" stroke-opacity="0.35" stroke-width="5.2"/>
<line x1="102.10" y1="179.02" x2="56.38" y2="137.85" stroke="#300060" stroke-width="3.6"/>
<line x1="102.10" y1="179.02" x2="56.38" y2="137.85" stroke="#7010d0" stroke-width="2.4"/>
<line x1="216.85" y1="262.76" x2="261.22" y2="289.42" stroke="#f8f000" stroke-width="11.5" stroke-linecap="round"/>
<line x1="216.85" y1="262.76" x2="261.22" y2="289.42" stroke="#300060" stroke-width="5.5" stroke-linecap="round"/>
<line x1="216.85" y1="262.76" x2="261.22" y2="289.42" stroke="#7010d0" stroke-width="4" stroke-linecap="round"/>
<line x1="73.91" y1="231.66" x2="24.20" y2="236.88" stroke="#fff" stroke-opacity="0.35" stroke-width="5.2"/>
<line x1="73.91" y1="231.66" x2="24.20" y2="236.88" stroke="#0a2a70" stroke-width="3.6"/>
<line x1="73.91" y1="231.66" x2="24.20" y2="236.88" stroke="#0b5cd5" stroke-width="2.4"/>
<line x1="223.78" y1="266.93" x2="261.22" y2="289.42" stroke="#fff" stroke-opacity="0.35" stroke-width="5.2"/>
<line x1="223.78" y1="266.93" x2="261.22" y2="289.42" stroke="#300060" stroke-width="3.6"/>
<line x1="223.78" y1="266.93" x2="261.22" y2="289.42" stroke="#7010d0" stroke-width="2.4"/>
<line x1="197.01" y1="305.60" x2="213.56" y2="335.45" stroke="#fff" stroke-opacity="0.35" stroke-width="5.2"/>
<line x1="197.01" y1="305.60" x2="213.56" y2="335.45" stroke="#0a2a70" stroke-width="3.6"/>
<line x1="197.01" y1="305.60" x2="213.56" y2="335.45" stroke="#0b5cd5" stroke-width="2.4"/>
<line x1="198.03" y1="307.44" x2="213.56" y2="335.45" stroke="#fff" stroke-opacity="0.35" stroke-width="5.2"/>
<line x1="198.03" y1="307.44" x2="213.56" y2="335.45" stroke="#300060" stroke-width="3.6"/>
<line x1="198.03" y1="307.44" x2="213.56" y2="335.45" stroke="#7010d0" stroke-width="2.4"/>
<line x1="79.52" y1="293.01" x2="59.42" y2="312.42" stroke="#fff" stroke-opacity="0.35" stroke-width="5.2"/>
<line x1="79.52" y1="293.01" x2="59.42" y2="312.42" stroke="#0a2a70" stroke-width="3.6"/>
<line x1="79.52" y1="293.01" x2="59.42" y2="312.42" stroke="#0b5cd5" stroke-width="2.4"/>
<line x1="71.28" y1="300.96" x2="59.42" y2="312.42" stroke="#f8f000" stroke-width="8.5" stroke-linecap="round"/>
<line x1="71.28" y1="300.96" x2="59.42" y2="312.42" stroke="#0a2a70" stroke-width="5.5" stroke-linecap="round"/>
<line x1="71.28" y1="300.96" x2="59.42" y2="312.42" stroke="#0b5cd5" stroke-width="4" stroke-linecap="round"/>
<line x1="78.27" y1="310.78" x2="69.22" y2="321.55" stroke="#fff" stroke-opacity="0.35" stroke-width="5.2"/>
<line x1="78.27" y1="310.78" x2="69.22" y2="321.55" stroke="#0a2a70" stroke-width="3.6"/>
<line x1="78.27" y1="310.78" x2="69.22" y2="321.55" stroke="#0b5cd5" stroke-width="2.4"/>
<line x1="76.07" y1="136.72" x2="67.52" y2="126.90" stroke="#f8f000" stroke-width="8.5" stroke-linecap="round"/>
<line x1="76.07" y1="136.72" x2="67.52" y2="126.90" stroke="#0a2a70" stroke-width="5.5" stroke-linecap="round"/>
<line x1="76.07" y1="136.72" x2="67.52" y2="126.90" stroke="#0b5cd5" stroke-width="4" stroke-linecap="round"/>
<line x1="63.77" y1="299.76" x2="54.90" y2="307.48" stroke="#f8f000" stroke-width="8.5" stroke-linecap="round"/>
<line x1="63.77" y1="299.76" x2="54.90" y2="307.48" stroke="#0a2a70" stroke-width="5.5" stroke-linecap="round"/>
<line x1="63.77" y1="299.76" x2="54.90" y2="307.48" stroke="#0b5cd5" stroke-width="4" stroke-linecap="round"/>
<line x1="63.46" y1="300.04" x2="54.90" y2="307.48" stroke="#fff" stroke-opacity="0.35" stroke-width="5.2"/>
<line x1="63.46" y1="300.04" x2="54.90" y2="307.48" stroke="#0a2a70" stroke-width="3.6"/>
<line x1="63.46" y1="300.04" x2="54.90" y2="307.48" stroke="#0b5cd5" stroke-width="2.4"/>
<line x1="91.42" y1="323.50" x2="85.58" y2="333.22" stroke="#fff" stroke-opacity="0.35" stroke-width="5.2"/>
<line x1="91.42" y1="323.50" x2="85.58" y2="333.22" stroke="#0a2a70" stroke-width="3.6"/>
<line x1="91.42" y1="323.50" x2="85.58" y2="333.22" stroke="#0b5cd5" stroke-width="2.4"/>
<line x1="145.04" y1="346.82" x2="144.80" y2="351.32" stroke="#fff" stroke-opacity="0.35" stroke-width="5.2"/>
<line x1="145.04" y1="346.82" x2="144.80" y2="351.32" stroke="#0a2a70" stroke-width="3.6"/>
<line x1="145.04" y1="346.82" x2="144.80" y2="351.32" stroke="#0b5cd5" stroke-width="2.4"/>
<line x1="185.80" y1="343.11" x2="186.78" y2="346.54" stroke="#fff" stroke-opacity="0.35" stroke-width="5.2"/>
<line x1="185.80" y1="343.11" x2="186.78" y2="346.54" stroke="#0a2a70" stroke-width="3.6"/>
<line x1="185.80" y1="343.11" x2="186.78" y2="346.54" stroke="#0b5cd5" stroke-width="2.4"/>
<line x1="185.83" y1="343.21" x2="186.78" y2="346.54" stroke="#fff" stroke-opacity="0.35" stroke-width="5.2"/>
<line x1="185.83" y1="343.21" x2="186.78" y2="346.54" stroke="#0a2a70" stroke-width="3.6"/>
<line x1="185.83" y1="343.21" x2="186.78" y2="346.54" stroke="#0b5cd5" stroke-width="2.4"/>
<line x1="171.00" y1="100.39" x2="171.52" y2="97.08" stroke="#fff" stroke-opacity="0.35" stroke-width="5.2"/>
<line x1="171.00" y1="100.39" x2="171.52" y2="97.08" stroke="#0a2a70" stroke-width="3.6"/>
<line x1="171.00" y1="100.39" x2="171.52" y2="97.08" stroke="#0b5cd5" stroke-width="2.4"/>
<line x1="185.94" y1="343.61" x2="186.78" y2="346.54" stroke="#fff" stroke-opacity="0.35" stroke-width="5.2"/>
<line x1="185.94" y1="343.61" x2="186.78" y2="346.54" stroke="#0a2a70" stroke-width="3.6"/>
<line x1="185.94" y1="343.61" x2="186.78" y2="346.54" stroke="#0b5cd5" stroke-width="2.4"/>
<line x1="188.06" y1="343.10" x2="188.92" y2="345.91" stroke="#f8f000" stroke-width="7.5" stroke-linecap="round"/>
<line x1="188.06" y1="343.10" x2="188.92" y2="345.91" stroke="#0a2a70" stroke-width="5.5" stroke-linecap="round"/>
<line x1="188.06" y1="343.10" x2="188.92" y2="345.91" stroke="#0b5cd5" stroke-width="4" stroke-linecap="round"/>
<line x1="173.23" y1="100.24" x2="173.73" y2="97.44" stroke="#fff" stroke-opacity="0.35" stroke-width="5.2"/>
<line x1="173.23" y1="100.24" x2="173.73" y2="97.44" stroke="#0a2a70" stroke-width="3.6"/>
<line x1="173.23" y1="100.24" x2="173.73" y2="97.44" stroke="#0b5cd5" stroke-width="2.4"/>
<line x1="188.16" y1="343.40" x2="188.92" y2="345.91" stroke="#fff" stroke-opacity="0.35" stroke-width="5.2"/>
<line x1="188.16" y1="343.40" x2="188.92" y2="345.91" stroke="#0a2a70" stroke-width="3.6"/>
<line x1="188.16" y1="343.40" x2="188.92" y2="345.91" stroke="#0b5cd5" stroke-width="2.4"/>
<line x1="186.06" y1="344.02" x2="186.78" y2="346.54" stroke="#fff" stroke-opacity="0.35" stroke-width="5.2"/>
<line x1="186.06" y1="344.02" x2="186.78" y2="346.54" stroke="#0a2a70" stroke-width="3.6"/>
<line x1="186.06" y1="344.02" x2="186.78" y2="346.54" stroke="#0b5cd5" stroke-width="2.4"/>
<line x1="188.22" y1="343.60" x2="188.92" y2="345.91" stroke="#fff" stroke-opacity="0.35" stroke-width="5.2"/>
<line x1="188.22" y1="343.60" x2="188.92" y2="345.91" stroke="#0a2a70" stroke-width="3.6"/>
<line x1="188.22" y1="343.60" x2="188.92" y2="345.91" stroke="#0b5cd5" stroke-width="2.4"/>
<line x1="188.28" y1="343.80" x2="188.92" y2="345.91" stroke="#fff" stroke-opacity="0.35" stroke-width="5.2"/>
<line x1="188.28" y1="343.80" x2="188.92" y2="345.91" stroke="#0a2a70" stroke-width="3.6"/>
<line x1="188.28" y1="343.80" x2="188.92" y2="345.91" stroke="#0b5cd5" stroke-width="2.4"/>
<line x1="188.62" y1="344.90" x2="188.92" y2="345.91" stroke="#fff" stroke-opacity="0.35" stroke-width="5.2"/>
<line x1="188.62" y1="344.90" x2="188.92" y2="345.91" stroke="#0a2a70" stroke-width="3.6"/>
<line x1="188.62" y1="344.90" x2="188.92" y2="345.91" stroke="#0b5cd5" stroke-width="2.4"/>
<line x1="186.61" y1="345.94" x2="186.78" y2="346.54" stroke="#fff" stroke-opacity="0.35" stroke-width="5.2"/>
<line x1="186.61" y1="345.94" x2="186.78" y2="346.54" stroke="#0a2a70" stroke-width="3.6"/>
<line x1="186.61" y1="345.94" x2="186.78" y2="346.54" stroke="#0b5cd5" stroke-width="2.4"/>
<line x1="55.06" y1="307.34" x2="54.90" y2="307.48" stroke="#fff" stroke-opacity="0.35" stroke-width="5.2"/>
<line x1="55.06" y1="307.34" x2="54.90" y2="307.48" stroke="#0a2a70" stroke-width="3.6"/>
<line x1="55.06" y1="307.34" x2="54.90" y2="307.48" stroke="#0b5cd5" stroke-width="2.4"/>
<rect x="57.45" y="227.40" width="12.60" height="10" fill="#fff" fill-opacity="0.6"/>
<rect x="73.20" y="230.90" width="12.60" height="10" fill="#fff" fill-opacity="0.6"/>
<rect x="87.20" y="228.25" width="12.60" height="10" fill="#fff" fill-opacity="0.6"/>
<rect x="102.10" y="225.60" width="12.60" height="10" fill="#fff" fill-opacity="0.6"/>
<rect x="116.10" y="223.90" width="12.60" height="10" fill="#fff" fill-opacity="0.6"/>
<rect x="129.20" y="221.25" width="12.60" height="10" fill="#fff" fill-opacity="0.6"/>
<rect x="165.90" y="231.25" width="12.60" height="10" fill="#fff" fill-opacity="0.6"/>
<rect x="181.30" y="229.60" width="12.60" height="10" fill="#fff" fill-opacity="0.6"/>
<rect x="179.70" y="239.00" width="12.60" height="10" fill="#fff" fill-opacity="0.6"/>
<rect x="191.90" y="245.90" width="12.60" height="10" fill="#fff" fill-opacity="0.6"/>
<rect x="204.10" y="254.00" width="12.60" height="10" fill="#fff" fill-opacity="0.6"/>
<rect x="216.30" y="261.30" width="12.60" height="10" fill="#fff" fill-opacity="0.6"/>
<rect x="229.30" y="268.60" width="12.60" height="10" fill="#fff" fill-opacity="0.6"/>
<rect x="242.70" y="275.90" width="6.80" height="10" fill="#fff" fill-opacity="0.6"/>
<rect x="253.60" y="282.40" width="12.60" height="10" fill="#fff" fill-opacity="0.6"/>
<rect x="262.60" y="289.00" width="12.60" height="10" fill="#fff" fill-opacity="0.6"/>
<rect x="79.30" y="282.50" width="12.60" height="10" fill="#fff" fill-opacity="0.6"/>
<rect x="71.60" y="292.50" width="6.80" height="10" fill="#fff" fill-opacity="0.6"/>
<rect x="56.60" y="297.50" width="6.80" height="10" fill="#fff" fill-opacity="0.6"/>
<rect x="43.70" y="307.50" width="12.60" height="10" fill="#fff" fill-opacity="0.6"/>
<rect x="78.70" y="300.60" width="12.60" height="10" fill="#fff" fill-opacity="0.6"/>
<rect x="88.70" y="311.25" width="12.60" height="10" fill="#fff" fill-opacity="0.6"/>
<rect x="188.10" y="293.75" width="12.60" height="10" fill="#fff" fill-opacity="0.6"/>
<rect x="194.95" y="306.25" width="12.60" height="10" fill="#fff" fill-opacity="0.6"/>
<rect x="139.95" y="333.10" width="12.60" height="10" fill="#fff" fill-opacity="0.6"/>
<rect x="178.10" y="330.00" width="12.60" height="10" fill="#fff" fill-opacity="0.6"/>
<rect x="182.45" y="344.75" width="12.60" height="10" fill="#fff" fill-opacity="0.6"/>
<rect x="184.95" y="350.00" width="12.60" height="10" fill="#fff" fill-opacity="0.6"/>
<rect x="168.70" y="90.00" width="12.60" height="10" fill="#fff" fill-opacity="0.6"/>
<rect x="163.70" y="103.00" width="12.60" height="10" fill="#fff" fill-opacity="0.6"/>
<rect x="78.00" y="138.60" width="6.80" height="10" fill="#fff" fill-opacity="0.6"/>
<rect x="101.70" y="179.00" width="12.60" height="10" fill="#fff" fill-opacity="0.6"/>
<rect x="138.70" y="174.00" width="12.60" height="10" fill="#fff" fill-opacity="0.6"/>
<text x="63.75" y="236.00" text-anchor="middle" font-family="Liberation Sans" font-size="10" fill="#0b5cd5">29</text>
<text x="79.50" y="239.50" text-anchor="middle" font-family="Liberation Sans" font-size="10" fill="#7010d0">41</text>
<text x="93.50" y="236.85" text-anchor="middle" font-family="Liberation Sans" font-size="10" fill="#7010d0">27</text>
<text x="108.40" y="234.20" text-anchor="middle" font-family="Liberation Sans" font-size="10" fill="#0b5cd5">50</text>
<text x="122.40" y="232.50" text-anchor="middle" font-family="Liberation Sans" font-size="10" fill="#0b5cd5">41</text>
<text x="135.50" y="229.85" text-anchor="middle" font-family="Liberation Sans" font-size="10" fill="#0b5cd5">39</text>
<text x="172.20" y="239.85" text-anchor="middle" font-family="Liberation Sans" font-size="10" fill="#0b5cd5">44</text>
<text x="187.60" y="238.20" text-anchor="middle" font-family="Liberation Sans" font-size="10" fill="#7010d0">50</text>
<text x="186.00" y="247.60" text-anchor="middle" font-family="Liberation Sans" font-size="10" fill="#0b5cd5">42</text>
<text x="198.20" y="254.50" text-anchor="middle" font-family="Liberation Sans" font-size="10" fill="#0b5cd5">19</text>
<text x="210.40" y="262.60" text-anchor="middle" font-family="Liberation Sans" font-size="10" fill="#0b5cd5">34</text>
<text x="222.60" y="269.90" text-anchor="middle" font-family="Liberation Sans" font-size="10" fill="#0b5cd5">32</text>
<text x="235.60" y="277.20" text-anchor="middle" font-family="Liberation Sans" font-size="10" fill="#0b5cd5">13</text>
<text x="246.10" y="284.50" text-anchor="middle" font-family="Liberation Sans" font-size="10" fill="#0b5cd5">7</text>
<text x="259.90" y="291.00" text-anchor="middle" font-family="Liberation Sans" font-size="10" fill="#0b5cd5">10</text>
<text x="268.90" y="297.60" text-anchor="middle" font-family="Liberation Sans" font-size="10" fill="#0b5cd5">18</text>
<text x="85.60" y="291.10" text-anchor="middle" font-family="Liberation Sans" font-size="10" fill="#0b5cd5">36</text>
<text x="75.00" y="301.10" text-anchor="middle" font-family="Liberation Sans" font-size="10" fill="#0b5cd5">5</text>
<text x="60.00" y="306.10" text-anchor="middle" font-family="Liberation Sans" font-size="10" fill="#0b5cd5">9</text>
<text x="50.00" y="316.10" text-anchor="middle" font-family="Liberation Sans" font-size="10" fill="#0b5cd5">28</text>
<text x="85.00" y="309.20" text-anchor="middle" font-family="Liberation Sans" font-size="10" fill="#0b5cd5">16</text>
<text x="95.00" y="319.85" text-anchor="middle" font-family="Liberation Sans" font-size="10" fill="#0b5cd5">31</text>
<text x="194.40" y="302.35" text-anchor="middle" font-family="Liberation Sans" font-size="10" fill="#0b5cd5">28</text>
<text x="201.25" y="314.85" text-anchor="middle" font-family="Liberation Sans" font-size="10" fill="#7010d0">28</text>
<text x="146.25" y="341.70" text-anchor="middle" font-family="Liberation Sans" font-size="10" fill="#0b5cd5">25</text>
<text x="184.40" y="338.60" text-anchor="middle" font-family="Liberation Sans" font-size="10" fill="#0b5cd5">40</text>
<text x="188.75" y="353.35" text-anchor="middle" font-family="Liberation Sans" font-size="10" fill="#0b5cd5">22</text>
<text x="191.25" y="358.60" text-anchor="middle" font-family="Liberation Sans" font-size="10" fill="#0b5cd5">23</text>
<text x="175.00" y="98.60" text-anchor="middle" font-family="Liberation Sans" font-size="10" fill="#0b5cd5">39</text>
<text x="170.00" y="111.60" text-anchor="middle" font-family="Liberation Sans" font-size="10" fill="#0b5cd5">28</text>
<text x="81.40" y="147.20" text-anchor="middle" font-family="Liberation Sans" font-size="10" fill="#0b5cd5">8</text>
<text x="108.00" y="187.60" text-anchor="middle" font-family="Liberation Sans" font-size="10" fill="#7010d0">69</text>
<text x="145.00" y="182.60" text-anchor="middle" font-family="Liberation Sans" font-size="10" fill="#0b5cd5">24</text>
<text x="142" y="95" text-anchor="middle" font-family="Liberation Sans" font-size="11" fill="#cc0000">N</text>
</svg>
<svg style="position:absolute;left:0;top:600px" width="800" height="168" viewBox="0 600 800 168" font-family="Liberation Sans">
<rect x="38.8" y="637" width="10.3" height="123" fill="#e6e6e6"/>
<rect x="69.7" y="637" width="30.9" height="123" fill="#e6e6e6"/>
<line x1="9" y1="644.50" x2="172" y2="644.50" stroke="#8a8a8a" stroke-width="1" stroke-dasharray="1 1"/>
<line x1="217" y1="644.50" x2="792" y2="644.50" stroke="#8a8a8a" stroke-width="1" stroke-dasharray="1 1"/>
<text x="202.5" y="647.58" text-anchor="end" font-size="11" fill="#1a1a1a">-10</text>
<line x1="9" y1="657.50" x2="172" y2="657.50" stroke="#8a8a8a" stroke-width="1" stroke-dasharray="1 1"/>
<line x1="217" y1="657.50" x2="792" y2="657.50" stroke="#8a8a8a" stroke-width="1" stroke-dasharray="1 1"/>
<text x="202.5" y="660.36" text-anchor="end" font-size="11" fill="#1a1a1a">-20</text>
<line x1="9" y1="670.50" x2="172" y2="670.50" stroke="#8a8a8a" stroke-width="1" stroke-dasharray="1 1"/>
<line x1="217" y1="670.50" x2="792" y2="670.50" stroke="#8a8a8a" stroke-width="1" stroke-dasharray="1 1"/>
<text x="202.5" y="673.14" text-anchor="end" font-size="11" fill="#1a1a1a">-30</text>
<line x1="9" y1="683.50" x2="172" y2="683.50" stroke="#8a8a8a" stroke-width="1" stroke-dasharray="1 1"/>
<line x1="217" y1="683.50" x2="792" y2="683.50" stroke="#8a8a8a" stroke-width="1" stroke-dasharray="1 1"/>
<text x="202.5" y="685.92" text-anchor="end" font-size="11" fill="#1a1a1a">-40</text>
<line x1="9" y1="696.50" x2="172" y2="696.50" stroke="#8a8a8a" stroke-width="1" stroke-dasharray="1 1"/>
<line x1="217" y1="696.50" x2="792" y2="696.50" stroke="#8a8a8a" stroke-width="1" stroke-dasharray="1 1"/>
<text x="202.5" y="698.70" text-anchor="end" font-size="11" fill="#1a1a1a">-50</text>
<line x1="9" y1="708.50" x2="172" y2="708.50" stroke="#8a8a8a" stroke-width="1" stroke-dasharray="1 1"/>
<line x1="217" y1="708.50" x2="792" y2="708.50" stroke="#8a8a8a" stroke-width="1" stroke-dasharray="1 1"/>
<text x="202.5" y="711.48" text-anchor="end" font-size="11" fill="#1a1a1a">-60</text>
<line x1="9" y1="721.50" x2="172" y2="721.50" stroke="#8a8a8a" stroke-width="1" stroke-dasharray="1 1"/>
<line x1="217" y1="721.50" x2="792" y2="721.50" stroke="#8a8a8a" stroke-width="1" stroke-dasharray="1 1"/>
<text x="202.5" y="724.26" text-anchor="end" font-size="11" fill="#1a1a1a">-70</text>
<line x1="9" y1="734.50" x2="172" y2="734.50" stroke="#8a8a8a" stroke-width="1" stroke-dasharray="1 1"/>
<line x1="217" y1="734.50" x2="792" y2="734.50" stroke="#8a8a8a" stroke-width="1" stroke-dasharray="1 1"/>
<text x="202.5" y="737.04" text-anchor="end" font-size="11" fill="#1a1a1a">-80</text>
<line x1="9" y1="747.50" x2="172" y2="747.50" stroke="#8a8a8a" stroke-width="1" stroke-dasharray="1 1"/>
<line x1="217" y1="747.50" x2="792" y2="747.50" stroke="#8a8a8a" stroke-width="1" stroke-dasharray="1 1"/>
<text x="202.5" y="749.82" text-anchor="end" font-size="11" fill="#1a1a1a">-90</text>
<text x="183" y="635.6" font-size="11" fill="#1a1a1a">dBm</text>
<text x="177.1" y="761.4" font-size="9" fill="#333">Channel</text>
<path d="M12.5 632.5 H7.5 V760.3 H173.2 V632.5 H164.2" fill="none" stroke="#000" stroke-width="1.6"/>
<path d="M65.5 632.5 H110.8" fill="none" stroke="#000" stroke-width="1.6"/>
<path d="M490 632.5 H215 V760.3 H792.4 V632.5 H518" fill="none" stroke="#000" stroke-width="1.6"/>
<text x="20.2" y="635.4" font-size="10.6" font-weight="bold" fill="#000">VHF Lo</text>
<text x="118.9" y="635.4" font-size="10.6" font-weight="bold" fill="#000">VHF Hi</text>
<text x="492" y="635.2" font-size="11.2" font-weight="bold" fill="#000">UHF</text>
<rect x="346.3" y="617" width="7.5" height="11.7" fill="#c00000"/><text x="350" y="626.5" text-anchor="middle" font-size="10" fill="#fff">C</text>
<text x="361.3" y="627.5" font-size="12.7" fill="#111">= Co-channel warning</text>
<rect x="557.5" y="617.5" width="7" height="10.5" fill="#ff8080"/><text x="561" y="626" text-anchor="middle" font-size="10" fill="#fff">a</text>
<text x="572" y="627.5" font-size="12.7" fill="#111">= Adjacent channel warning</text>
<rect x="9.97" y="756" width="6.20" height="7" fill="#fff"/>
<text x="13.07" y="762.1" text-anchor="middle" font-size="7.5" fill="#111">2</text>
<rect x="30.62" y="756" width="6.20" height="7" fill="#fff"/>
<text x="33.73" y="762.1" text-anchor="middle" font-size="7.5" fill="#111">4</text>
<rect x="51.28" y="756" width="6.20" height="7" fill="#fff"/>
<text x="54.38" y="762.1" text-anchor="middle" font-size="7.5" fill="#111">5</text>
<rect x="61.62" y="756" width="6.20" height="7" fill="#fff"/>
<text x="64.72" y="762.1" text-anchor="middle" font-size="7.5" fill="#111">6</text>
<rect x="102.94" y="756" width="6.20" height="7" fill="#fff"/>
<text x="106.04" y="762.1" text-anchor="middle" font-size="7.5" fill="#111">7</text>
<rect x="123.60" y="756" width="6.20" height="7" fill="#fff"/>
<text x="126.70" y="762.1" text-anchor="middle" font-size="7.5" fill="#111">9</text>
<rect x="142.16" y="756" width="10.40" height="7" fill="#fff"/>
<text x="147.36" y="762.1" text-anchor="middle" font-size="7.5" fill="#111">11</text>
<rect x="162.82" y="756" width="10.40" height="7" fill="#fff"/>
<text x="168.02" y="762.1" text-anchor="middle" font-size="7.5" fill="#111">13</text>
<rect x="214.15" y="756" width="10.40" height="7" fill="#fff"/>
<text x="219.35" y="762.1" text-anchor="middle" font-size="7.5" fill="#111">14</text>
<rect x="234.81" y="756" width="10.40" height="7" fill="#fff"/>
<text x="240.01" y="762.1" text-anchor="middle" font-size="7.5" fill="#111">16</text>
<rect x="265.80" y="756" width="10.40" height="7" fill="#fff"/>
<text x="271.00" y="762.1" text-anchor="middle" font-size="7.5" fill="#111">19</text>
<rect x="296.79" y="756" width="10.40" height="7" fill="#fff"/>
<text x="301.99" y="762.1" text-anchor="middle" font-size="7.5" fill="#111">22</text>
<rect x="327.78" y="756" width="10.40" height="7" fill="#fff"/>
<text x="332.98" y="762.1" text-anchor="middle" font-size="7.5" fill="#111">25</text>
<rect x="358.77" y="756" width="10.40" height="7" fill="#fff"/>
<text x="363.97" y="762.1" text-anchor="middle" font-size="7.5" fill="#111">28</text>
<rect x="389.76" y="756" width="10.40" height="7" fill="#fff"/>
<text x="394.96" y="762.1" text-anchor="middle" font-size="7.5" fill="#111">31</text>
<rect x="420.75" y="756" width="10.40" height="7" fill="#fff"/>
<text x="425.95" y="762.1" text-anchor="middle" font-size="7.5" fill="#111">34</text>
<rect x="451.74" y="756" width="10.40" height="7" fill="#fff"/>
<text x="456.94" y="762.1" text-anchor="middle" font-size="7.5" fill="#111">37</text>
<rect x="482.73" y="756" width="10.40" height="7" fill="#fff"/>
<text x="487.93" y="762.1" text-anchor="middle" font-size="7.5" fill="#111">40</text>
<rect x="513.72" y="756" width="10.40" height="7" fill="#fff"/>
<text x="518.92" y="762.1" text-anchor="middle" font-size="7.5" fill="#111">43</text>
<rect x="544.71" y="756" width="10.40" height="7" fill="#fff"/>
<text x="549.91" y="762.1" text-anchor="middle" font-size="7.5" fill="#111">46</text>
<rect x="575.70" y="756" width="10.40" height="7" fill="#fff"/>
<text x="580.90" y="762.1" text-anchor="middle" font-size="7.5" fill="#111">49</text>
<rect x="606.69" y="756" width="10.40" height="7" fill="#fff"/>
<text x="611.89" y="762.1" text-anchor="middle" font-size="7.5" fill="#111">52</text>
<rect x="637.68" y="756" width="10.40" height="7" fill="#fff"/>
<text x="642.88" y="762.1" text-anchor="middle" font-size="7.5" fill="#111">55</text>
<rect x="668.67" y="756" width="10.40" height="7" fill="#fff"/>
<text x="673.87" y="762.1" text-anchor="middle" font-size="7.5" fill="#111">58</text>
<rect x="699.66" y="756" width="10.40" height="7" fill="#fff"/>
<text x="704.86" y="762.1" text-anchor="middle" font-size="7.5" fill="#111">61</text>
<rect x="730.65" y="756" width="10.40" height="7" fill="#fff"/>
<text x="735.85" y="762.1" text-anchor="middle" font-size="7.5" fill="#111">64</text>
<rect x="761.64" y="756" width="10.40" height="7" fill="#fff"/>
<text x="766.84" y="762.1" text-anchor="middle" font-size="7.5" fill="#111">67</text>
<rect x="782.30" y="756" width="10.40" height="7" fill="#fff"/>
<text x="787.50" y="762.1" text-anchor="middle" font-size="7.5" fill="#111">69</text>
<text transform="translate(480.90 646.23) rotate(-90)" text-anchor="end" font-size="9.3" fill="#0b5cd5" opacity="0.90" x="0" y="0">W39DF-D</text>
<text transform="translate(501.56 647.25) rotate(-90)" text-anchor="end" font-size="9.3" fill="#0b5cd5" opacity="0.45" x="0" y="0">WPXJ-LP</text>
<text transform="translate(594.53 651.98) rotate(-90)" text-anchor="end" font-size="9.3" fill="#0b5cd5" opacity="0.45" x="0" y="0">W50CO</text>
<text transform="translate(356.94 646.23) rotate(-90)" text-anchor="end" font-size="9.3" fill="#7010d0" opacity="0.90" x="0" y="0">WWRJ-LP</text>
<text transform="translate(532.55 661.69) rotate(-90)" text-anchor="end" font-size="9.3" fill="#0b5cd5" opacity="0.90" x="0" y="0">WJEB-TV</text>
<text transform="translate(501.56 647.76) rotate(-90)" text-anchor="end" font-size="9.3" fill="#7010d0" opacity="0.90" x="0" y="0">WPXJ-LP</text>
<text transform="translate(511.89 654.30) rotate(-90)" text-anchor="start" font-size="9.3" fill="#0b5cd5" opacity="0.90">WJXT-DT</text>
<text transform="translate(274.30 654.30) rotate(-90)" text-anchor="start" font-size="9.3" fill="#0b5cd5" opacity="0.90">WTEV-DT</text>
<text transform="translate(429.25 654.56) rotate(-90)" text-anchor="start" font-size="9.3" fill="#0b5cd5" opacity="0.90">WCWJ-DT</text>
<text transform="translate(408.59 655.97) rotate(-90)" text-anchor="start" font-size="9.3" fill="#0b5cd5" opacity="0.90">WAWS-DT</text>
<text transform="translate(171.32 657.63) rotate(-90)" text-anchor="start" font-size="9.3" fill="#0b5cd5" opacity="0.90">WTLV-DT</text>
<text transform="translate(109.34 658.01) rotate(-90)" text-anchor="start" font-size="9.3" fill="#0b5cd5" opacity="0.90">WJCT</text>
<text transform="translate(140.33 659.93) rotate(-90)" text-anchor="start" font-size="9.3" fill="#0b5cd5" opacity="0.90">WJXX-DT</text>
<text transform="translate(594.53 661.57) rotate(-90)" text-anchor="end" font-size="9.3" fill="#7010d0" opacity="0.90" x="0" y="0">W50CO</text>
<text transform="translate(263.97 671.43) rotate(-90)" text-anchor="start" font-size="9.3" fill="#0b5cd5" opacity="0.90">WJXE-LD</text>
<text transform="translate(356.94 671.94) rotate(-90)" text-anchor="start" font-size="9.3" fill="#0b5cd5" opacity="0.90">WWRJ-LP</text>
<text transform="translate(418.92 673.09) rotate(-90)" text-anchor="start" font-size="9.3" fill="#0b5cd5" opacity="0.45">WUJF-LP</text>
<text transform="translate(542.88 674.24) rotate(-90)" text-anchor="start" font-size="9.3" fill="#0b5cd5" opacity="0.90">W45BZ</text>
<text transform="translate(418.92 660.31) rotate(-90)" text-anchor="start" font-size="9.3" fill="#7010d0" opacity="0.90">WUJF-LP</text>
<text transform="translate(325.95 675.78) rotate(-90)" text-anchor="start" font-size="9.3" fill="#0b5cd5" opacity="0.90">WPXC-TV</text>
<text transform="translate(232.98 667.72) rotate(-90)" text-anchor="start" font-size="9.3" fill="#7010d0" opacity="0.90">WVVQ-LP</text>
<text transform="translate(522.22 672.84) rotate(-90)" text-anchor="start" font-size="9.3" fill="#7010d0" opacity="0.90">WBXJ-CA</text>
<text transform="translate(790.80 678.08) rotate(-90)" text-anchor="start" font-size="9.3" fill="#7010d0" opacity="0.90">WUBF-LP</text>
<text transform="translate(130.00 689.96) rotate(-90)" text-anchor="start" font-size="9.3" fill="#7010d0" opacity="0.90">WJKF-CA</text>
<text transform="translate(377.60 707.60) rotate(-90)" text-anchor="start" font-size="9.3" fill="#0b5cd5" opacity="0.90">WUBF-LP</text>
<text transform="translate(542.88 699.80) rotate(-90)" text-anchor="start" font-size="9.3" fill="#7010d0" opacity="0.90">W45BZ</text>
<text transform="translate(367.27 726.90) rotate(-90)" text-anchor="start" font-size="9.3" fill="#0b5cd5" opacity="0.45">WQXT-CA</text>
<text transform="translate(367.27 714.12) rotate(-90)" text-anchor="start" font-size="9.3" fill="#7010d0" opacity="0.90">WQXT-CA</text>
<text transform="translate(449.91 734.44) rotate(-90)" text-anchor="start" font-size="9.3" fill="#0b5cd5" opacity="0.90">WUFT-DT</text>
<text transform="translate(57.68 748.37) rotate(-90)" text-anchor="start" font-size="9.3" fill="#0b5cd5" opacity="0.90">WRUF-LD</text>
<text transform="translate(243.31 751.18) rotate(-90)" text-anchor="start" font-size="9.3" fill="#0b5cd5" opacity="0.90">WCJB-DT</text>
<text transform="translate(119.67 752.46) rotate(-90)" text-anchor="start" font-size="9.3" fill="#0b5cd5" opacity="0.45">WXGA-DT</text>
<text transform="translate(130.00 753.99) rotate(-90)" text-anchor="start" font-size="9.3" fill="#0b5cd5" opacity="0.45">WNBW-DT</text>
<g><rect x="472.70" y="639.93" width="9.8" height="3.2" rx="0.8" fill="#0b5cd5" stroke="#001a66" stroke-width="0.7"/></g>
<g><rect x="493.36" y="640.95" width="9.8" height="3.2" rx="0.8" fill="#0b5cd5" stroke="#001a66" stroke-width="0.7"/></g>
<g><rect x="586.33" y="645.68" width="9.8" height="3.2" rx="0.8" fill="#0b5cd5" stroke="#001a66" stroke-width="0.7"/></g>
<g opacity="0.45"><rect x="348.74" y="639.93" width="9.8" height="3.2" rx="0.8" fill="#7010d0" stroke="#2a0055" stroke-width="0.7"/></g>
<g><rect x="524.35" y="655.39" width="9.8" height="3.2" rx="0.8" fill="#0b5cd5" stroke="#001a66" stroke-width="0.7"/></g>
<g><rect x="493.36" y="641.46" width="9.8" height="3.2" rx="0.8" fill="#7010d0" stroke="#2a0055" stroke-width="0.7"/></g>
<g><rect x="503.69" y="658.20" width="9.8" height="3.2" rx="0.8" fill="#0b5cd5" stroke="#001a66" stroke-width="0.7"/></g>
<g><rect x="266.10" y="658.20" width="9.8" height="3.2" rx="0.8" fill="#0b5cd5" stroke="#001a66" stroke-width="0.7"/></g>
<g><rect x="421.05" y="658.46" width="9.8" height="3.2" rx="0.8" fill="#0b5cd5" stroke="#001a66" stroke-width="0.7"/></g>
<g><rect x="400.39" y="659.87" width="9.8" height="3.2" rx="0.8" fill="#0b5cd5" stroke="#001a66" stroke-width="0.7"/></g>
<g><rect x="161.22" y="659.33" width="13.6" height="7.6" rx="3.8" fill="#f4ee00"/><rect x="163.12" y="661.53" width="9.8" height="3.2" rx="0.8" fill="#0b5cd5" stroke="#001a66" stroke-width="0.7"/></g>
<g><rect x="99.24" y="659.71" width="13.6" height="7.6" rx="3.8" fill="#f4ee00"/><rect x="101.14" y="661.91" width="9.8" height="3.2" rx="0.8" fill="#0b5cd5" stroke="#001a66" stroke-width="0.7"/></g>
<g><rect x="130.22" y="661.63" width="13.6" height="7.6" rx="3.8" fill="#f4ee00"/><rect x="132.12" y="663.83" width="9.8" height="3.2" rx="0.8" fill="#0b5cd5" stroke="#001a66" stroke-width="0.7"/></g>
<g><rect x="586.33" y="655.27" width="9.8" height="3.2" rx="0.8" fill="#7010d0" stroke="#2a0055" stroke-width="0.7"/></g>
<g><rect x="255.77" y="675.33" width="9.8" height="3.2" rx="0.8" fill="#0b5cd5" stroke="#001a66" stroke-width="0.7"/></g>
<g><rect x="348.74" y="675.84" width="9.8" height="3.2" rx="0.8" fill="#0b5cd5" stroke="#001a66" stroke-width="0.7"/></g>
<g><rect x="410.72" y="676.99" width="9.8" height="3.2" rx="0.8" fill="#0b5cd5" stroke="#001a66" stroke-width="0.7"/></g>
<g opacity="0.45"><rect x="534.68" y="678.14" width="9.8" height="3.2" rx="0.8" fill="#0b5cd5" stroke="#001a66" stroke-width="0.7"/></g>
<g><rect x="410.72" y="664.21" width="9.8" height="3.2" rx="0.8" fill="#7010d0" stroke="#2a0055" stroke-width="0.7"/></g>
<g><rect x="317.75" y="679.68" width="9.8" height="3.2" rx="0.8" fill="#0b5cd5" stroke="#001a66" stroke-width="0.7"/></g>
<g><rect x="224.78" y="671.62" width="9.8" height="3.2" rx="0.8" fill="#7010d0" stroke="#2a0055" stroke-width="0.7"/></g>
<g><rect x="514.02" y="676.74" width="9.8" height="3.2" rx="0.8" fill="#7010d0" stroke="#2a0055" stroke-width="0.7"/></g>
<g><rect x="782.60" y="681.98" width="9.8" height="3.2" rx="0.8" fill="#7010d0" stroke="#2a0055" stroke-width="0.7"/></g>
<g><rect x="119.90" y="691.66" width="13.6" height="7.6" rx="3.8" fill="#f4ee00"/><rect x="121.80" y="693.86" width="9.8" height="3.2" rx="0.8" fill="#7010d0" stroke="#2a0055" stroke-width="0.7"/></g>
<g><rect x="369.40" y="711.50" width="9.8" height="3.2" rx="0.8" fill="#0b5cd5" stroke="#001a66" stroke-width="0.7"/></g>
<g><rect x="534.68" y="703.70" width="9.8" height="3.2" rx="0.8" fill="#7010d0" stroke="#2a0055" stroke-width="0.7"/></g>
<g opacity="0.45"><rect x="359.07" y="730.80" width="9.8" height="3.2" rx="0.8" fill="#0b5cd5" stroke="#001a66" stroke-width="0.7"/></g>
<g><rect x="359.07" y="718.02" width="9.8" height="3.2" rx="0.8" fill="#7010d0" stroke="#2a0055" stroke-width="0.7"/></g>
<g><rect x="441.71" y="738.34" width="9.8" height="3.2" rx="0.8" fill="#0b5cd5" stroke="#001a66" stroke-width="0.7"/></g>
<g><rect x="47.59" y="750.07" width="13.6" height="7.6" rx="3.8" fill="#f4ee00"/><rect x="49.48" y="752.27" width="9.8" height="3.2" rx="0.8" fill="#0b5cd5" stroke="#001a66" stroke-width="0.7"/></g>
<g><rect x="235.11" y="755.08" width="9.8" height="3.2" rx="0.8" fill="#0b5cd5" stroke="#001a66" stroke-width="0.7"/></g>
<g opacity="0.45"><rect x="109.57" y="754.16" width="13.6" height="7.6" rx="3.8" fill="#f4ee00"/><rect x="111.47" y="756.36" width="9.8" height="3.2" rx="0.8" fill="#0b5cd5" stroke="#001a66" stroke-width="0.7"/></g>
<g opacity="0.45"><rect x="119.90" y="755.69" width="13.6" height="7.6" rx="3.8" fill="#f4ee00"/><rect x="121.80" y="757.89" width="9.8" height="3.2" rx="0.8" fill="#0b5cd5" stroke="#001a66" stroke-width="0.7"/></g>
</svg>
</body></html>
